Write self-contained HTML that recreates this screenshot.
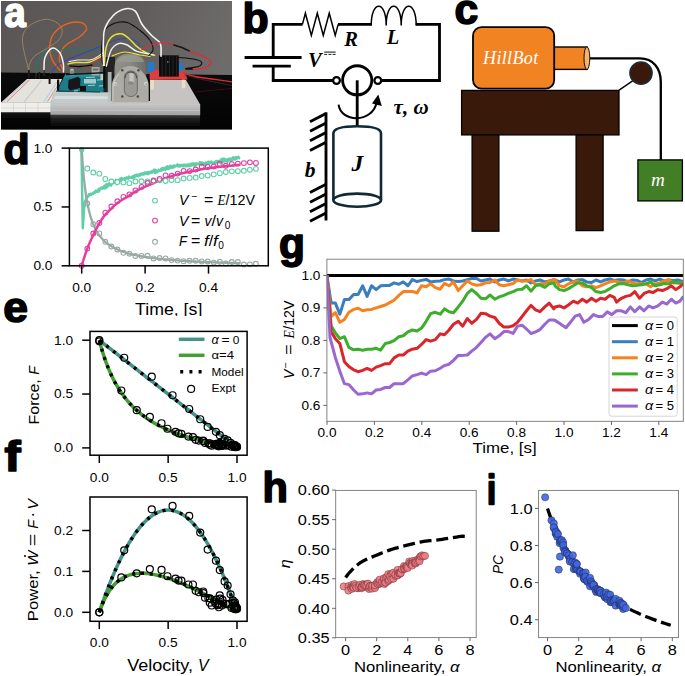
<!DOCTYPE html>
<html><head><meta charset="utf-8"><title>Figure</title>
<style>
html,body{margin:0;padding:0;background:#fff;}
body{width:685px;height:676px;overflow:hidden;font-family:"Liberation Sans",sans-serif;}
svg{display:block;font-family:"Liberation Sans",sans-serif;}
</style></head><body>
<svg width="685" height="676" viewBox="0 0 685 676">
<defs>
<linearGradient id="bgA" x1="0" y1="0" x2="1" y2="0.25"><stop offset="0" stop-color="#595655"/><stop offset="0.55" stop-color="#5f5c5b"/><stop offset="1" stop-color="#6e6b6b"/></linearGradient>
<linearGradient id="tblA" x1="0" y1="0" x2="0" y2="1"><stop offset="0" stop-color="#0b0b0b"/><stop offset="1" stop-color="#030303"/></linearGradient>
<linearGradient id="refA" x1="0" y1="0" x2="0" y2="1"><stop offset="0" stop-color="#505050"/><stop offset="0.35" stop-color="#262626"/><stop offset="1" stop-color="#060606"/></linearGradient>
<linearGradient id="alA" x1="0" y1="0" x2="0" y2="1"><stop offset="0" stop-color="#c9c9c9"/><stop offset="0.5" stop-color="#b4b4b4"/><stop offset="1" stop-color="#a2a2a2"/></linearGradient>
<linearGradient id="motA" x1="0" y1="0" x2="1" y2="0"><stop offset="0" stop-color="#8f9189"/><stop offset="0.45" stop-color="#8a8c84"/><stop offset="1" stop-color="#6a6c66"/></linearGradient>
<filter id="blA" x="-2%" y="-2%" width="104%" height="104%"><feGaussianBlur stdDeviation="0.45"/></filter>
<filter id="blB" x="-5%" y="-5%" width="110%" height="110%"><feGaussianBlur stdDeviation="1.2"/></filter>
</defs>
<clipPath id="ca"><rect x="1" y="1" width="231" height="128.5"/></clipPath>
<g clip-path="url(#ca)">
<rect x="0" y="0" width="234" height="131" fill="url(#bgA)" stroke="none" stroke-width="1" />
<polygon points="0,72.6 234,75 234,131 0,131" fill="url(#tblA)" />
<g filter="url(#blA)">
<rect x="50.5" y="114.5" width="149.5" height="12" fill="url(#refA)" stroke="none" stroke-width="0" opacity="0.8"/>
<rect x="1.5" y="112" width="49" height="8" fill="url(#refA)" stroke="none" stroke-width="0" opacity="0.28"/>
<polygon points="27,79 62,79 51,102.5 1,102.5" fill="#e4e2dc" />
<polygon points="1,102.3 51,102.3 51,112.2 1,112.2" fill="#efeeea" />
<line x1="1" y1="108" x2="51" y2="108" stroke="#d6d4cf" stroke-width="0.8" />
<line x1="13.5" y1="102.5" x2="13.5" y2="112" stroke="#cfcdc8" stroke-width="0.7" />
<line x1="25.5" y1="102.5" x2="25.5" y2="112" stroke="#cfcdc8" stroke-width="0.7" />
<line x1="38" y1="102.5" x2="38" y2="112" stroke="#cfcdc8" stroke-width="0.7" />
<line x1="29.5" y1="80" x2="7" y2="101.5" stroke="#e0707a" stroke-width="0.9" />
<line x1="27.5" y1="80" x2="3.5" y2="101.5" stroke="#8ec6e0" stroke-width="0.7" />
<line x1="58" y1="80.5" x2="44" y2="101.5" stroke="#8ec6e0" stroke-width="0.8" />
<line x1="60" y1="82" x2="47.5" y2="101.5" stroke="#e0707a" stroke-width="0.8" />
<line x1="42" y1="80" x2="24" y2="102" stroke="#cfcdc6" stroke-width="1.2" />
<polygon points="50.4,103.8 200,104.2 186,80 150,79.4 150,101 56,101" fill="#c8c3c3" />
<polygon points="50.4,103.6 200.2,104 200.2,115.2 50.4,114.8" fill="url(#alA)" />
<line x1="50.4" y1="110.2" x2="200" y2="110.6" stroke="#cfcfcf" stroke-width="0.8" opacity="0.7"/>
<polygon points="53.3,91.5 111,92 111,103.8 50.8,103.8" fill="#c3cbcb" />
<polygon points="55,96 110,96.3 110,99 54,99" fill="#dfe5e5" opacity="0.7"/>
<polygon points="65.3,74.3 108.4,72.1 109.1,92.6 56.6,91.8" fill="#1f7d88" />
<polygon points="65.3,74.3 108.4,72.1 108.6,76 63.5,78" fill="#2a93a0" opacity="0.6"/>
<polygon points="68.5,80 78,76.8 80.5,79 80,88 70,90.5 68,88" fill="#15161a" />
<rect x="91.6" y="67" width="8" height="8.5" fill="#a9a9a2" stroke="none" stroke-width="1" />
<rect x="92.8" y="68.5" width="5.6" height="2" fill="#6f6f6a" stroke="none" stroke-width="1" />
<circle cx="72" cy="70.5" r="2" fill="#b8b8b8" stroke="none" stroke-width="1" />
<rect x="69.8" y="70.5" width="4.4" height="5" fill="#8a8a8a" stroke="none" stroke-width="1" />
<rect x="80" y="86" width="6" height="5" fill="#111" stroke="none" stroke-width="1" />
<rect x="84" y="79" width="12" height="4.5" fill="#cfe4e6" stroke="none" stroke-width="0" opacity="0.75"/>
<rect x="57" y="79.5" width="2.2" height="11" fill="#0c0c0c" stroke="none" stroke-width="1" />
<line x1="66" y1="74.6" x2="108" y2="72.5" stroke="#101418" stroke-width="1.3" />
<line x1="58" y1="91" x2="100" y2="92" stroke="#0f3f45" stroke-width="1" />
<line x1="86" y1="77.5" x2="95" y2="77.2" stroke="#d8ecee" stroke-width="0.9" opacity="0.8"/>
<line x1="88" y1="85.5" x2="95" y2="85.2" stroke="#d8ecee" stroke-width="0.9" opacity="0.8"/>
<line x1="97" y1="80" x2="103" y2="79.7" stroke="#d8ecee" stroke-width="0.9" opacity="0.8"/>
<line x1="99" y1="86" x2="104" y2="85.7" stroke="#d8ecee" stroke-width="0.9" opacity="0.8"/>
<line x1="74" y1="91" x2="78" y2="90.7" stroke="#d8ecee" stroke-width="0.9" opacity="0.8"/>
<rect x="100.5" y="74" width="3" height="6" fill="#c8c8c0" stroke="none" stroke-width="1" />
<path d="M103.5,57 H115 V92 H103.5 Z" fill="#1b1b1b" opacity="0.92"/>
<path d="M114.5,100 V68 C114.5,57 121,53.5 130.5,53.5 C140,53.5 146.2,57 146.2,68 V100 Z" fill="url(#motA)"/>
<path d="M117,62 C119,56.5 124,55 130.5,55 C137,55 142,56.5 144,62 Z" fill="#9c9e96" opacity="0.7"/>
<rect x="107.8" y="72" width="3.8" height="30.2" fill="#b9c1bf" stroke="none" stroke-width="0" opacity="0.9"/>
<path d="M111.9,102.2 V86 C111.9,80 115,76 118.5,72 C121.5,68 125,65.9 130.5,65.9 C136,65.9 139.5,68 142.5,72 C146,76 148.7,80 148.7,86 V102.2 Z" fill="#acaba5"/>
<path d="M113,101.5 V87 C113,82 115.5,78 119,74" fill="none" stroke="#c9c8c3" stroke-width="1.1"/>
<path d="M124.4,90 V77.5 C124.4,68.8 137.3,68.8 137.3,77.5 V90 C137.3,98.7 124.4,98.7 124.4,90 Z" fill="#9b9a94" stroke="#66655f" stroke-width="0.9"/>
<path d="M125.2,78 C125.2,70 136.5,70 136.5,78" fill="none" stroke="#3e3d39" stroke-width="1"/>
<rect x="127.8" y="73.2" width="5.9" height="10.5" fill="#c6c4be" stroke="none" stroke-width="0" rx="1.6"/>
<rect x="127.8" y="73.2" width="1.6" height="10.5" fill="#9f9d97" stroke="none" stroke-width="0" rx="0.8"/>
<ellipse cx="130.7" cy="83" rx="2.9" ry="1.8" fill="#8a8882"/>
<circle cx="122.3" cy="70.3" r="1.3" fill="#4e4d49" stroke="none" stroke-width="1" />
<circle cx="138.5" cy="70.3" r="1.3" fill="#4e4d49" stroke="none" stroke-width="1" />
<circle cx="122.3" cy="96.5" r="1.3" fill="#4e4d49" stroke="none" stroke-width="1" />
<circle cx="137.8" cy="96.5" r="1.3" fill="#4e4d49" stroke="none" stroke-width="1" />
<circle cx="115" cy="84" r="1.9" fill="#d6d5d0" stroke="none" stroke-width="1" />
<circle cx="115.3" cy="84.4" r="0.9" fill="#a3a29c" stroke="none" stroke-width="1" />
<circle cx="145.9" cy="83.6" r="1.9" fill="#d6d5d0" stroke="none" stroke-width="1" />
<circle cx="146.2" cy="84" r="0.9" fill="#a3a29c" stroke="none" stroke-width="1" />
<rect x="150.3" y="80" width="3.6" height="9.6" fill="#e6dfc2" stroke="none" stroke-width="1" />
<rect x="181.8" y="79.4" width="3.5" height="8.8" fill="#e6dfc2" stroke="none" stroke-width="1" />
<polygon points="149.6,70 184,70 187.6,79.4 149.6,79.4" fill="#e23c3e" />
<rect x="147.4" y="62" width="6.6" height="10" fill="#2878c8" stroke="none" stroke-width="1" />
<rect x="178.8" y="62.6" width="4" height="9" fill="#2878c8" stroke="none" stroke-width="1" />
<rect x="159" y="55.3" width="19.8" height="21.3" fill="#0d0d0f" stroke="none" stroke-width="1" />
<line x1="162.2" y1="56" x2="162.2" y2="76" stroke="#2b2b30" stroke-width="0.8" />
<line x1="165.8" y1="56" x2="165.8" y2="76" stroke="#2b2b30" stroke-width="0.8" />
<line x1="169.4" y1="56" x2="169.4" y2="76" stroke="#2b2b30" stroke-width="0.8" />
<line x1="173" y1="56" x2="173" y2="76" stroke="#2b2b30" stroke-width="0.8" />
<line x1="176.4" y1="56" x2="176.4" y2="76" stroke="#2b2b30" stroke-width="0.8" />
<circle cx="167.8" cy="62" r="0.8" fill="#999" stroke="none" stroke-width="1" />
<path d="M28.8,70.7 C27.73,65.58 22.27,47.5 22.4,40 C22.53,32.5 25.45,29.15 29.6,25.7 C33.75,22.25 42.07,19.17 47.3,19.3 C52.53,19.43 58.88,23.3 61,26.5 C63.12,29.7 62.28,34.88 60,38.5 C57.72,42.12 51.55,45.25 47.3,48.2 C43.05,51.15 37.45,53.53 34.5,56.2 C31.55,58.87 30.55,61.78 29.6,64.2 C28.65,66.62 28.93,69.62 28.8,70.7" fill="none" stroke="#a08662" stroke-width="0.9" stroke-linecap="round" />
<path d="M60.1,70.7 C58.75,68.82 53.73,63.42 52,59.4 C50.27,55.38 49.42,50.88 49.7,46.6 C49.98,42.32 50.88,37.47 53.7,33.7 C56.52,29.93 62.05,25.87 66.6,24 C71.15,22.13 77.67,21.68 81,22.5 C84.33,23.32 86.87,26.48 86.6,28.9 C86.33,31.32 82.47,34.58 79.4,37 C76.33,39.42 71.13,41.27 68.2,43.4 C65.27,45.53 63.28,47.13 61.8,49.8 C60.32,52.47 59.17,56.2 59.3,59.4 C59.43,62.6 62.05,67.4 62.6,69" fill="none" stroke="#e8621e" stroke-width="1.4" stroke-linecap="round" />
<path d="M36,76 C36.28,73.5 36.37,64.83 37.7,61 C39.03,57.17 41.62,54.85 44,53 C46.38,51.15 42.62,50.43 52,49.9 C61.38,49.37 92.25,49.82 100.3,49.8" fill="none" stroke="#1f7a66" stroke-width="1.1" stroke-linecap="round" />
<path d="M50.5,73.9 C51.58,72.55 54.05,68.22 57,65.8 C59.95,63.38 63.67,61.53 68.2,59.4 C72.73,57.27 78.85,55.13 84.2,53 C89.55,50.87 94.93,48.77 100.3,46.6 C105.67,44.43 111.9,41.35 116.4,40 C120.9,38.65 123.87,38.2 127.3,38.5 C130.73,38.8 134.88,40.18 137,41.8 C139.12,43.42 139.5,47.13 140,48.2" fill="none" stroke="#2744c4" stroke-width="1" stroke-linecap="round" />
<path d="M44,72 C44.15,69.63 43.57,61.77 44.9,57.8 C46.23,53.83 49.48,49 52,48.2 C54.52,47.4 58.1,50.33 60,53 C61.9,55.67 62.83,61.03 63.4,64.2 C63.97,67.37 63.4,70.7 63.4,72" fill="none" stroke="#f4f4f4" stroke-width="1.5" stroke-linecap="round" />
<path d="M68,64 C69.17,63.75 71.33,62.83 75,62.5 C78.67,62.17 85.25,63.25 90,62 C94.75,60.75 101.25,56.17 103.5,55" fill="none" stroke="#e8dc3a" stroke-width="1.4" stroke-linecap="round" />
<path d="M69,61.5 C70.5,61.25 74.17,60.33 78,60 C81.83,59.67 87.83,60.67 92,59.5 C96.17,58.33 101.17,54.08 103,53" fill="none" stroke="#f0f0f0" stroke-width="1.1" stroke-linecap="round" />
<path d="M88,69 C89,67.83 91.5,63.92 94,62 C96.5,60.08 101.5,58.25 103,57.5" fill="none" stroke="#d42a2a" stroke-width="1" stroke-linecap="round" />
<path d="M70,66 C71.67,66.08 76.33,66.67 80,66.5 C83.67,66.33 90,65.25 92,65" fill="none" stroke="#111" stroke-width="1.3" stroke-linecap="round" />
<path d="M104.3,67.5 C104.58,64.25 104.8,53.08 106,48 C107.2,42.92 109,39.38 111.5,37 C114,34.62 118.1,33.45 121,33.7 C123.9,33.95 126.23,36.35 128.9,38.5 C131.57,40.65 134.05,44.18 137,46.6 C139.95,49.02 143.67,51.53 146.6,53 C149.53,54.47 153.27,55 154.6,55.4" fill="none" stroke="#e6e23a" stroke-width="1.5" stroke-linecap="round" />
<path d="M106.4,66 C107.2,63.3 109.05,53.57 111.2,49.8 C113.35,46.03 116.62,44.2 119.3,43.4 C121.98,42.6 124.35,43.67 127.3,45 C130.25,46.33 132.72,49.8 137,51.4 C141.28,53 150.33,54.07 153,54.6" fill="none" stroke="#f0f0f0" stroke-width="1.4" stroke-linecap="round" />
<path d="M102.5,64 C102.35,61.37 101.22,53.78 101.6,48.2 C101.98,42.62 102.65,34.65 104.8,30.5 C106.95,26.35 110.75,24.63 114.5,23.3 C118.25,21.97 123.03,21.3 127.3,22.5 C131.57,23.7 136.35,27.58 140.1,30.5 C143.85,33.42 147.65,36.78 149.8,40 C151.95,43.22 153.3,47.1 153,49.8 C152.7,52.5 148.83,55.13 148,56.2" fill="none" stroke="#0e0e0e" stroke-width="1.1" stroke-linecap="round" />
<path d="M103.6,66 C103.67,60.33 102.47,40.33 104,32 C105.53,23.67 109.18,19.87 112.8,16 C116.42,12.13 121.95,9.6 125.7,8.8 C129.45,8 132.62,8.67 135.3,11.2 C137.98,13.73 139.12,19.98 141.8,24 C144.48,28.02 148.33,32.07 151.4,35.3 C154.47,38.53 158.6,39.92 160.2,43.4 C161.8,46.88 160.87,54.07 161,56.2" fill="none" stroke="#f2f2f2" stroke-width="1.6" stroke-linecap="round" />
<path d="M112,56 C114.17,55.33 120.33,52.17 125,52 C129.67,51.83 135.83,54.25 140,55 C144.17,55.75 148.33,56.25 150,56.5" fill="none" stroke="#e6e23a" stroke-width="1.2" stroke-linecap="round" />
<path d="M141.7,49.8 C143.32,49 147.65,46.2 151.4,45 C155.15,43.8 160.45,42.6 164.2,42.6 C167.95,42.6 172.28,44.6 173.9,45" fill="none" stroke="#de2b36" stroke-width="1.2" stroke-linecap="round" />
<path d="M173.9,45 C175.25,45.42 179.32,46.43 182,47.5 C184.68,48.57 188.67,50.75 190,51.4" fill="none" stroke="#151515" stroke-width="1.5" stroke-linecap="round" />
<path d="M190,51.4 C192.13,52.2 199.3,54.43 202.8,56.2 C206.3,57.97 210.63,60.08 211,62 C211.37,63.92 208.17,66.45 205,67.7 C201.83,68.95 194.17,69.2 192,69.5" fill="none" stroke="#de2b36" stroke-width="1.3" stroke-linecap="round" />
<path d="M178.8,57.5 C181.23,57.75 189.63,58.25 193.4,59 C197.17,59.75 200.47,60.78 201.4,62 C202.33,63.22 201.57,65.22 199,66.3 C196.43,67.38 188.17,68.13 186,68.5" fill="none" stroke="#101010" stroke-width="1.1" stroke-linecap="round" />
<path d="M186,68.8 C187,68.8 191,68.8 192,68.8" fill="none" stroke="#0a0a0a" stroke-width="1.8" stroke-linecap="round" />
<path d="M183,72.8 C185,73.42 190.17,75.47 195,76.5 C199.83,77.53 205.83,78.12 212,79 C218.17,79.88 228.67,81.33 232,81.8" fill="none" stroke="#de2b36" stroke-width="1.3" stroke-linecap="round" />
<path d="M185,75 C187.5,75.67 192.17,77.25 200,79 C207.83,80.75 226.67,84.42 232,85.5" fill="none" stroke="#3a3a3a" stroke-width="0.7" stroke-linecap="round" />
<path d="M196,92 C199.17,91.67 209,90.58 215,90 C221,89.42 229.17,88.75 232,88.5" fill="none" stroke="#5a1015" stroke-width="0.7" stroke-linecap="round" />
<rect x="28" y="70" width="1.8" height="8" fill="#1a1a1a" stroke="none" stroke-width="1" />
<rect x="35" y="73" width="1.6" height="6" fill="#1a1a1a" stroke="none" stroke-width="1" />
<rect x="38.6" y="72" width="1.6" height="7" fill="#1a1a1a" stroke="none" stroke-width="1" />
<rect x="48.6" y="76" width="2" height="8" fill="#151515" stroke="none" stroke-width="1" />
<rect x="43.3" y="70" width="1.6" height="6" fill="#222" stroke="none" stroke-width="1" />
<rect x="103.2" y="66" width="2.2" height="22" fill="#111" stroke="none" stroke-width="1" />
</g>
</g>
<g fill="none" stroke="#000" stroke-linecap="butt" stroke-linejoin="miter">
<path d="M273.2,57.5 V24.4 H302.6" stroke-width="2.85"/>
<polyline points="302.4,24.4 305.38,13.2 311.35,35.4 317.32,13.2 323.28,35.4 329.25,13.2 335.22,35.4 338.2,24.4" stroke-width="1.5"/>
<path d="M338,24.4 H371.6" stroke-width="2.85"/>
<path d="M371.2,25.5 C371.2,-0.2 386.2,-0.2 386.2,25.5 M386.2,25.5 C386.2,-0.2 401.2,-0.2 401.2,25.5 M401.2,25.5 C401.2,-0.2 416.2,-0.2 416.2,25.5 " stroke-width="1.5"/>
<path d="M415.8,24.4 H439.5 V80.5 H381" stroke-width="2.85"/>
<path d="M244.6,57.5 H301.6" stroke-width="2.85"/>
<path d="M252.6,66.1 H290.8" stroke-width="2.85"/>
<path d="M273.2,66.1 V80.5 H333.2" stroke-width="2.85"/>
<circle cx="336.5" cy="80.5" r="3.4" stroke-width="2.3"/>
<circle cx="377.8" cy="80.5" r="3.4" stroke-width="2.3"/>
<circle cx="357.2" cy="80.3" r="14.6" stroke-width="2.85" fill="#fff"/>
<path d="M357.2,80.3 V126" stroke-width="2.85"/>
<path d="M338.6,104.6 C341,123 372,123 376.5,103" stroke-width="2"/>
<path d="M378.3,94.5 L381.8,106 L372,103.5 Z" fill="#000" stroke="none"/>
<path d="M326,112.3 V220.5" stroke-width="2.85"/>
<path d="M326,113.6 L310,121.8" stroke-width="2.85"/>
<path d="M326,123 L310,131.2" stroke-width="2.85"/>
<path d="M326,132.6 L310,140.79999999999998" stroke-width="2.85"/>
<path d="M326,142.2 L310,150.39999999999998" stroke-width="2.85"/>
<path d="M326,184.3 L310,192.5" stroke-width="2.85"/>
<path d="M326,194 L310,202.2" stroke-width="2.85"/>
<path d="M326,203.5 L310,211.7" stroke-width="2.85"/>
<path d="M326,213 L310,221.2" stroke-width="2.85"/>
<g stroke="#0f2a36" stroke-width="2.6">
<path d="M333.4,200.2 V133.5 C333.4,128.8 341,126.2 357.2,126.2 C373.4,126.2 381,128.8 381,133.5 V200.2"/>
<ellipse cx="357.2" cy="200.2" rx="23.8" ry="6.6"/>
</g>
</g>
<text x="344.2" y="46.3" font-size="20.5" fill="#000" font-style="italic" font-weight="bold" font-family="Liberation Serif">R</text>
<text x="386.8" y="44" font-size="20.5" fill="#000" font-style="italic" font-weight="bold" font-family="Liberation Serif">L</text>
<text x="308" y="66.6" font-size="20.5" fill="#000" font-style="italic" font-weight="bold" font-family="Liberation Serif">V</text>
<line x1="324.2" y1="52.1" x2="335.6" y2="52.1" stroke="#222" stroke-width="1.1" />
<line x1="324.2" y1="54.4" x2="335.6" y2="54.4" stroke="#222" stroke-width="1" stroke-dasharray="3 1.2"/>
<text x="351.6" y="171.2" font-size="23.5" fill="#000" font-style="italic" font-weight="bold" font-family="Liberation Serif">J</text>
<text x="304.8" y="177" font-size="21.5" fill="#000" font-style="italic" font-weight="bold" font-family="Liberation Serif">b</text>
<text x="393.6" y="113.8" font-size="21.5" fill="#000" textLength="35" lengthAdjust="spacingAndGlyphs" font-style="italic" font-weight="bold" font-family="Liberation Serif">τ, ω</text>
<path d="M588,58.3 H640 C653,58.3 660.8,68 660.8,82 V160" fill="none" stroke="#000" stroke-width="2.3"/>
<rect x="472.1" y="134" width="26.8" height="97.2" fill="#38190A" stroke="#000" stroke-width="1.3" />
<rect x="576.1" y="134" width="27" height="96.6" fill="#38190A" stroke="#000" stroke-width="1.3" />
<rect x="461.6" y="90.4" width="157.4" height="44.5" fill="#38190A" stroke="#000" stroke-width="1.3" />
<line x1="619.1" y1="90.2" x2="633" y2="80.6" stroke="#000" stroke-width="1.4" />
<circle cx="641" cy="73.1" r="11.1" fill="#3A190A" stroke="#17303a" stroke-width="1.5" />
<rect x="553" y="47" width="34" height="22.4" fill="#F28322" stroke="#000" stroke-width="1.4" />
<ellipse cx="586.9" cy="58.2" rx="2.9" ry="11.4" fill="#F4B469" stroke="#000" stroke-width="0.9"/>
<rect x="473" y="27.2" width="81.2" height="61.4" fill="#F28322" stroke="#000" stroke-width="1.8" rx="8.5" ry="8.5"/>
<text x="483" y="63.6" font-size="18.3" fill="#fff" textLength="55.5" lengthAdjust="spacingAndGlyphs" font-style="italic" font-family="Liberation Serif" letter-spacing="0.3">HillBot</text>
<rect x="637.9" y="159.9" width="44.5" height="41" fill="#427E26" stroke="#000" stroke-width="1.3" />
<text x="651" y="186.2" font-size="18.5" fill="#fff" textLength="13.8" lengthAdjust="spacingAndGlyphs" font-style="italic" font-family="Liberation Serif">m</text>
<clipPath id="cd"><rect x="69.4" y="148.1" width="198.9" height="117.70000000000002"/></clipPath>
<g clip-path="url(#cd)">
<polyline points="81.38,148.1 82.81,228.14 84.08,208.13 85.19,201.06 86.61,197.7 86.98,196.48 87.34,197.82 87.71,196.03 88.08,196.67 88.44,196.35 88.81,194.39 89.17,195.42 89.54,195.28 89.9,194.4 90.27,193.81 90.64,194.43 91,193.7 91.37,194.64 91.73,193.93 92.1,193.75 92.46,194.2 92.83,194.11 93.2,193.97 93.56,192.69 93.93,192.43 94.29,192.33 94.66,191.82 95.02,192.69 95.39,191.53 95.76,191.08 96.12,190.49 96.49,191.52 96.85,190.99 97.22,192.03 97.58,190.68 97.95,191.79 98.32,191.01 98.68,188.9 99.05,191.24 99.41,188.76 99.78,188.93 100.14,189.24 100.51,188.46 100.88,188.22 101.24,187.64 101.61,188.43 101.97,188.52 102.34,188.35 102.7,188.46 103.07,187.55 103.43,187.93 103.8,186.33 104.17,188.4 104.53,187.62 104.9,187.33 105.26,188.02 105.63,184.78 105.99,187.9 106.36,186.1 106.73,186.1 107.09,184.26 107.46,186.87 107.82,184.35 108.19,185.56 108.55,184.94 108.92,185.17 109.29,183.99 109.65,185.18 110.02,184.2 110.38,183.71 110.75,182.4 111.11,185.49 111.48,182.32 111.85,182.6 112.21,183.53 112.58,182.77 112.94,183.21 113.31,181.44 113.67,182.38 114.04,182.56 114.41,182.42 114.77,182.25 115.14,182.09 115.5,182.48 115.87,180.1 116.23,182.99 116.6,184.16 116.97,181.36 117.33,181.24 117.7,180.72 118.06,181.03 118.43,180.86 118.79,180.37 119.16,179.76 119.52,180.73 119.89,180.55 120.26,178.66 120.62,179.62 120.99,180.67 121.35,178.02 121.72,179.09 122.08,180.03 122.45,180.37 122.82,179.13 123.18,179.89 123.55,179.95 123.91,180.03 124.28,179.32 124.64,177.98 125.01,179.05 125.38,179.72 125.74,178 126.11,178.36 126.47,177.66 126.84,177.28 127.2,178.23 127.57,178.11 127.94,177.93 128.3,178.66 128.67,177.18 129.03,176.54 129.4,177.35 129.76,177.56 130.13,177.48 130.5,177.77 130.86,177.69 131.23,177.28 131.59,177.52 131.96,177.11 132.32,177.88 132.69,176.31 133.06,176.44 133.42,177.26 133.79,178.04 134.15,176.19 134.52,175.24 134.88,176.55 135.25,176.26 135.61,176.23 135.98,175.2 136.35,176.3 136.71,174.75 137.08,175.64 137.44,174.61 137.81,175.19 138.17,175.3 138.54,176.16 138.91,175.46 139.27,175.04 139.64,174.25 140,174.47 140.37,175.1 140.73,174.16 141.1,173.63 141.47,174.41 141.83,174.54 142.2,174.41 142.56,173.4 142.93,173.52 143.29,174.55 143.66,173.47 144.03,174.03 144.39,174.15 144.76,172.54 145.12,172.77 145.49,173.87 145.85,173.17 146.22,172.76 146.59,173.55 146.95,173.07 147.32,172.38 147.68,174.18 148.05,172.48 148.41,172.09 148.78,172.19 149.15,173.52 149.51,172.17 149.88,173 150.24,171.82 150.61,171.72 150.97,171.94 151.34,172.61 151.7,172.41 152.07,171.22 152.44,172.49 152.8,171.34 153.17,171.26 153.53,171.78 153.9,169.66 154.26,171.36 154.63,169.7 155,172.8 155.36,172.9 155.73,170.35 156.09,170.54 156.46,171.18 156.82,170.9 157.19,172.23 157.56,171.18 157.92,171.4 158.29,170.7 158.65,169.76 159.02,170.31 159.38,169.98 159.75,170.71 160.12,170.42 160.48,169.91 160.85,170.12 161.21,168.84 161.58,170.37 161.94,168.15 162.31,170.24 162.68,168.56 163.04,169.85 163.41,167.88 163.77,168.91 164.14,168.58 164.5,168.19 164.87,169.12 165.24,169.31 165.6,169.94 165.97,167.33 166.33,168.67 166.7,168.47 167.06,167.92 167.43,166.26 167.79,168.99 168.16,167.36 168.53,167.75 168.89,166.94 169.26,168.63 169.62,167.47 169.99,166.44 170.35,165.82 170.72,165.72 171.09,167.53 171.45,166.78 171.82,166.85 172.18,167.76 172.55,167.75 172.91,166.02 173.28,166.36 173.65,166.61 174.01,165.52 174.38,167.17 174.74,165.95 175.11,166.3 175.47,166.31 175.84,165.85 176.21,166.05 176.57,165.93 176.94,165.9 177.3,164.58 177.67,166.26 178.03,165.21 178.4,165.48 178.77,166.18 179.13,165.26 179.5,166.49 179.86,164.91 180.23,166.39 180.59,166.11 180.96,165.45 181.33,165.03 181.69,164.93 182.06,164.91 182.42,165.72 182.79,166.26 183.15,165.07 183.52,165.22 183.88,166.15 184.25,164.64 184.62,165.19 184.98,166.04 185.35,164.93 185.71,166.24 186.08,165.86 186.44,164.84 186.81,166.3 187.18,165.04 187.54,166.07 187.91,164.43 188.27,165.51 188.64,164.77 189,166.02 189.37,165.1 189.74,164.07 190.1,164.41 190.47,166.12 190.83,163.97 191.2,163.96 191.56,164.89 191.93,163.48 192.3,165.33 192.66,164.55 193.03,163.59 193.39,163.4 193.76,163.39 194.12,165.17 194.49,165.65 194.86,163.95 195.22,165.31 195.59,164.28 195.95,165.12 196.32,163.29 196.68,163.45 197.05,163.6 197.42,163.97 197.78,163.91 198.15,164.14 198.51,163.58 198.88,163.64 199.24,163.44 199.61,164.08 199.97,162.27 200.34,163.46 200.71,162.57 201.07,162.58 201.44,164.24 201.8,164.82 202.17,162.53 202.53,163.75 202.9,163.35 203.27,163.57 203.63,163.23 204,164.21 204.36,163.34 204.73,163.57 205.09,163.19 205.46,164.93 205.83,162.47 206.19,162.81 206.56,164.34 206.92,163.54 207.29,162.92 207.65,162.42 208.02,162.86 208.39,161.77 208.75,162.77 209.12,163.51 209.48,163.22 209.85,162.1 210.21,163.1 210.58,161.95 210.95,161.77 211.31,162.07 211.68,161.7 212.04,162.57 212.41,162.41 212.77,162.82 213.14,162.8 213.51,163.49 213.87,162.68 214.24,163.04 214.6,163.27 214.97,162.03 215.33,161.76 215.7,162.33 216.06,160.98 216.43,161.27 216.8,161.15 217.16,162.37 217.53,163.01 217.89,161.41 218.26,161.56 218.62,161.2 218.99,161.39 219.36,160.71 219.72,161.85 220.09,161.08 220.45,162.23 220.82,163.27 221.18,161.21 221.55,159.06 221.92,161.58 222.28,161.59 222.65,161.78 223.01,160.62 223.38,161.55 223.74,158.54 224.11,161.44 224.48,159.72 224.84,159.87 225.21,160.79 225.57,159.35 225.94,160.07 226.3,160.97 226.67,159.58 227.04,160.32 227.4,161.97 227.77,160.05 228.13,158.93 228.5,159.02 228.86,160.4 229.23,159.57 229.6,159.36 229.96,158.54 230.33,158.8 230.69,161.03 231.06,160.05 231.42,160.42 231.79,158.66 232.15,158.26 232.52,159.74 232.89,159.64 233.25,157.18 233.62,157.86 233.98,159.07 234.35,158.74 234.71,159.59 235.08,159.6 235.45,159.2 235.81,157.18 236.18,159.08 236.54,158.59 236.91,157.83 237.27,158.27 237.64,157.97 238.01,156.97 238.37,156.88 238.74,157.57 239.1,157.5 239.47,158.15 239.83,158.1 240.2,158.19" fill="none" stroke="#5ECFA6" stroke-width="2.5" stroke-linejoin="round"/>
<polyline points="81.7,148.1 82.49,160.78 83.28,171.05 84.08,179.53 84.87,186.66 85.66,192.73 86.45,197.97 87.25,202.53 88.04,206.54 88.83,210.09 89.62,213.25 90.42,216.09 91.21,218.66 92,220.98 92.8,223.1 93.59,225.04 94.38,226.82 95.17,228.46 95.97,229.97 96.76,231.38 97.55,232.69 98.34,233.9 99.14,235.04 99.93,236.11 100.72,237.11 101.51,238.05 102.31,238.93 103.1,239.76 103.89,240.55 104.68,241.3 105.47,242.01 106.27,242.68 107.06,243.32 107.85,243.92 108.65,244.5 109.44,245.05 110.23,245.58 111.02,246.08 111.81,246.57 112.61,247.03 113.4,247.47 114.19,247.89 114.98,248.3 115.78,248.69 116.57,249.07 117.36,249.43 118.16,249.78 118.95,250.11 119.74,250.44 120.53,250.75 121.33,251.05 122.12,251.34 122.91,251.62 123.7,251.9 124.5,252.16 125.29,252.41 126.08,252.66 126.87,252.9 127.66,253.13 128.46,253.36 129.25,253.58 130.04,253.79 130.84,253.99 131.63,254.19 132.42,254.39 133.21,254.58 134,254.76 134.8,254.94 135.59,255.11 136.38,255.28 137.18,255.45 137.97,255.61 138.76,255.77 139.55,255.92 140.34,256.07 141.14,256.21 141.93,256.35 142.72,256.49 143.52,256.63 144.31,256.76 145.1,256.89 145.89,257.01 146.69,257.14 147.48,257.26 148.27,257.38 149.06,257.49 149.86,257.6 150.65,257.71 151.44,257.82 152.23,257.93 153.03,258.03 153.82,258.13 154.61,258.23 155.4,258.33 156.19,258.42 156.99,258.52 157.78,258.61 158.57,258.7 159.37,258.78 160.16,258.87 160.95,258.95 161.74,259.04 162.54,259.12 163.33,259.2 164.12,259.28 164.91,259.35 165.71,259.43 166.5,259.5 167.29,259.58 168.08,259.65 168.88,259.72 169.67,259.79 170.46,259.85 171.25,259.92 172.05,259.99 172.84,260.05 173.63,260.11 174.42,260.18 175.22,260.24 176.01,260.3 176.8,260.36 177.59,260.41 178.38,260.47 179.18,260.53 179.97,260.58 180.76,260.64 181.56,260.69 182.35,260.74 183.14,260.8 183.93,260.85 184.73,260.9 185.52,260.95 186.31,261 187.1,261.05 187.9,261.09 188.69,261.14 189.48,261.19 190.27,261.23 191.06,261.28 191.86,261.32 192.65,261.36 193.44,261.41 194.24,261.45 195.03,261.49 195.82,261.53 196.61,261.57 197.41,261.61 198.2,261.65 198.99,261.69 199.78,261.73 200.57,261.77 201.37,261.8 202.16,261.84 202.95,261.88 203.75,261.91 204.54,261.95 205.33,261.98 206.12,262.02 206.92,262.05 207.71,262.08 208.5,262.12 209.29,262.15 210.09,262.18 210.88,262.21 211.67,262.25 212.46,262.28 213.25,262.31 214.05,262.34 214.84,262.37 215.63,262.4 216.43,262.43 217.22,262.46 218.01,262.48 218.8,262.51 219.6,262.54 220.39,262.57 221.18,262.59 221.97,262.62 222.76,262.65 223.56,262.67 224.35,262.7 225.14,262.73 225.94,262.75 226.73,262.78 227.52,262.8 228.31,262.83 229.11,262.85 229.9,262.87 230.69,262.9 231.48,262.92 232.27,262.94 233.07,262.97 233.86,262.99 234.65,263.01 235.44,263.03 236.24,263.05 237.03,263.08 237.82,263.1 238.62,263.12 239.41,263.14 240.2,263.16" fill="none" stroke="#9AA9A5" stroke-width="2.3" />
<polyline points="81.7,265.8 82.5,263.11 83.29,260.49 84.09,257.95 84.89,255.51 85.68,253.15 86.48,250.89 87.28,248.74 88.07,246.69 88.87,244.73 89.66,242.86 90.46,241.05 91.26,239.3 92.05,237.59 92.85,235.91 93.65,234.24 94.44,232.59 95.24,230.96 96.04,229.37 96.83,227.82 97.63,226.32 98.43,224.89 99.22,223.52 100.02,222.19 100.82,220.9 101.61,219.65 102.41,218.45 103.21,217.3 104,216.21 104.8,215.2 105.59,214.26 106.39,213.38 107.19,212.55 107.98,211.75 108.78,210.99 109.58,210.24 110.37,209.49 111.17,208.73 111.97,207.95 112.76,207.17 113.56,206.39 114.36,205.62 115.15,204.88 115.95,204.18 116.75,203.53 117.54,202.92 118.34,202.34 119.13,201.78 119.93,201.24 120.73,200.72 121.52,200.22 122.32,199.72 123.12,199.24 123.91,198.76 124.71,198.29 125.51,197.82 126.3,197.35 127.1,196.88 127.9,196.4 128.69,195.92 129.49,195.42 130.29,194.92 131.08,194.42 131.88,193.91 132.67,193.41 133.47,192.9 134.27,192.4 135.06,191.9 135.86,191.41 136.66,190.93 137.45,190.46 138.25,190 139.05,189.55 139.84,189.13 140.64,188.72 141.44,188.33 142.23,187.95 143.03,187.58 143.83,187.22 144.62,186.87 145.42,186.53 146.22,186.2 147.01,185.87 147.81,185.55 148.6,185.22 149.4,184.9 150.2,184.58 150.99,184.25 151.79,183.93 152.59,183.6 153.38,183.26 154.18,182.91 154.98,182.57 155.77,182.22 156.57,181.87 157.37,181.52 158.16,181.17 158.96,180.82 159.76,180.48 160.55,180.14 161.35,179.8 162.14,179.48 162.94,179.16 163.74,178.85 164.53,178.55 165.33,178.26 166.13,177.97 166.92,177.69 167.72,177.41 168.52,177.13 169.31,176.86 170.11,176.59 170.91,176.33 171.7,176.08 172.5,175.83 173.3,175.58 174.09,175.34 174.89,175.11 175.68,174.89 176.48,174.67 177.28,174.46 178.07,174.25 178.87,174.05 179.67,173.85 180.46,173.66 181.26,173.47 182.06,173.29 182.85,173.11 183.65,172.93 184.45,172.75 185.24,172.58 186.04,172.41 186.84,172.24 187.63,172.08 188.43,171.91 189.23,171.75 190.02,171.58 190.82,171.42 191.61,171.26 192.41,171.1 193.21,170.94 194,170.78 194.8,170.61 195.6,170.45 196.39,170.29 197.19,170.13 197.99,169.97 198.78,169.81 199.58,169.65 200.38,169.49 201.17,169.34 201.97,169.19 202.77,169.04 203.56,168.9 204.36,168.76 205.15,168.62 205.95,168.49 206.75,168.37 207.54,168.25 208.34,168.13 209.14,168.02 209.93,167.92 210.73,167.81 211.53,167.71 212.32,167.62 213.12,167.52 213.92,167.43 214.71,167.34 215.51,167.25 216.31,167.17 217.1,167.08 217.9,167 218.69,166.92 219.49,166.84 220.29,166.76 221.08,166.68 221.88,166.6 222.68,166.51 223.47,166.43 224.27,166.35 225.07,166.27 225.86,166.19 226.66,166.11 227.46,166.03 228.25,165.95 229.05,165.87 229.85,165.79 230.64,165.71 231.44,165.63 232.24,165.55 233.03,165.48 233.83,165.4 234.62,165.33 235.42,165.25 236.22,165.18 237.01,165.1 237.81,165.03 238.61,164.96 239.4,164.88 240.2,164.81" fill="none" stroke="#E23FA0" stroke-width="2.5" />
</g>
<g><circle cx="87.28" cy="168.54" r="2.4" fill="#fff" stroke="#5ECFA6" stroke-width="1.1" /><circle cx="93.3" cy="172.51" r="2.4" fill="#fff" stroke="#5ECFA6" stroke-width="1.1" /><circle cx="99.33" cy="173.63" r="2.4" fill="#fff" stroke="#5ECFA6" stroke-width="1.1" /><circle cx="105.35" cy="178.97" r="2.4" fill="#fff" stroke="#5ECFA6" stroke-width="1.1" /><circle cx="111.37" cy="181.52" r="2.4" fill="#fff" stroke="#5ECFA6" stroke-width="1.1" /><circle cx="117.39" cy="182.06" r="2.4" fill="#fff" stroke="#5ECFA6" stroke-width="1.1" /><circle cx="123.42" cy="182.41" r="2.4" fill="#fff" stroke="#5ECFA6" stroke-width="1.1" /><circle cx="129.44" cy="183.16" r="2.4" fill="#fff" stroke="#5ECFA6" stroke-width="1.1" /><circle cx="135.46" cy="181.51" r="2.4" fill="#fff" stroke="#5ECFA6" stroke-width="1.1" /><circle cx="141.49" cy="181.29" r="2.4" fill="#fff" stroke="#5ECFA6" stroke-width="1.1" /><circle cx="147.51" cy="181.38" r="2.4" fill="#fff" stroke="#5ECFA6" stroke-width="1.1" /><circle cx="153.53" cy="181.25" r="2.4" fill="#fff" stroke="#5ECFA6" stroke-width="1.1" /><circle cx="159.56" cy="180.19" r="2.4" fill="#fff" stroke="#5ECFA6" stroke-width="1.1" /><circle cx="165.58" cy="180.95" r="2.4" fill="#fff" stroke="#5ECFA6" stroke-width="1.1" /><circle cx="171.6" cy="179.95" r="2.4" fill="#fff" stroke="#5ECFA6" stroke-width="1.1" /><circle cx="177.62" cy="180.14" r="2.4" fill="#fff" stroke="#5ECFA6" stroke-width="1.1" /><circle cx="183.65" cy="178.5" r="2.4" fill="#fff" stroke="#5ECFA6" stroke-width="1.1" /><circle cx="189.67" cy="177.89" r="2.4" fill="#fff" stroke="#5ECFA6" stroke-width="1.1" /><circle cx="195.69" cy="177.53" r="2.4" fill="#fff" stroke="#5ECFA6" stroke-width="1.1" /><circle cx="201.72" cy="176.06" r="2.4" fill="#fff" stroke="#5ECFA6" stroke-width="1.1" /><circle cx="207.74" cy="175.44" r="2.4" fill="#fff" stroke="#5ECFA6" stroke-width="1.1" /><circle cx="213.76" cy="174.34" r="2.4" fill="#fff" stroke="#5ECFA6" stroke-width="1.1" /><circle cx="219.79" cy="173.22" r="2.4" fill="#fff" stroke="#5ECFA6" stroke-width="1.1" /><circle cx="225.81" cy="172.01" r="2.4" fill="#fff" stroke="#5ECFA6" stroke-width="1.1" /><circle cx="231.83" cy="171.36" r="2.4" fill="#fff" stroke="#5ECFA6" stroke-width="1.1" /><circle cx="237.85" cy="171.22" r="2.4" fill="#fff" stroke="#5ECFA6" stroke-width="1.1" /><circle cx="243.88" cy="170.81" r="2.4" fill="#fff" stroke="#5ECFA6" stroke-width="1.1" /><circle cx="249.9" cy="169.7" r="2.4" fill="#fff" stroke="#5ECFA6" stroke-width="1.1" /><circle cx="255.92" cy="168.84" r="2.4" fill="#fff" stroke="#5ECFA6" stroke-width="1.1" /><circle cx="81.7" cy="149.87" r="2.2" fill="#5ECFA6" stroke="#5ECFA6" stroke-width="1" /><circle cx="81.7" cy="265.8" r="2.4" fill="none" stroke="#E23FA0" stroke-width="1.1" /><circle cx="87.28" cy="248.61" r="2.4" fill="none" stroke="#E23FA0" stroke-width="1.1" /><circle cx="93.3" cy="233.56" r="2.4" fill="none" stroke="#E23FA0" stroke-width="1.1" /><circle cx="99.33" cy="222.88" r="2.4" fill="none" stroke="#E23FA0" stroke-width="1.1" /><circle cx="105.35" cy="212.7" r="2.4" fill="none" stroke="#E23FA0" stroke-width="1.1" /><circle cx="111.37" cy="206.55" r="2.4" fill="none" stroke="#E23FA0" stroke-width="1.1" /><circle cx="117.39" cy="201.32" r="2.4" fill="none" stroke="#E23FA0" stroke-width="1.1" /><circle cx="123.42" cy="196.83" r="2.4" fill="none" stroke="#E23FA0" stroke-width="1.1" /><circle cx="129.44" cy="194.47" r="2.4" fill="none" stroke="#E23FA0" stroke-width="1.1" /><circle cx="135.46" cy="190.44" r="2.4" fill="none" stroke="#E23FA0" stroke-width="1.1" /><circle cx="141.49" cy="186.89" r="2.4" fill="none" stroke="#E23FA0" stroke-width="1.1" /><circle cx="147.51" cy="183.02" r="2.4" fill="none" stroke="#E23FA0" stroke-width="1.1" /><circle cx="153.53" cy="180.53" r="2.4" fill="none" stroke="#E23FA0" stroke-width="1.1" /><circle cx="159.56" cy="178.91" r="2.4" fill="none" stroke="#E23FA0" stroke-width="1.1" /><circle cx="165.58" cy="175.42" r="2.4" fill="none" stroke="#E23FA0" stroke-width="1.1" /><circle cx="171.6" cy="175.79" r="2.4" fill="none" stroke="#E23FA0" stroke-width="1.1" /><circle cx="177.62" cy="173.62" r="2.4" fill="none" stroke="#E23FA0" stroke-width="1.1" /><circle cx="183.65" cy="170.92" r="2.4" fill="none" stroke="#E23FA0" stroke-width="1.1" /><circle cx="189.67" cy="171.11" r="2.4" fill="none" stroke="#E23FA0" stroke-width="1.1" /><circle cx="195.69" cy="169.52" r="2.4" fill="none" stroke="#E23FA0" stroke-width="1.1" /><circle cx="201.72" cy="166.76" r="2.4" fill="none" stroke="#E23FA0" stroke-width="1.1" /><circle cx="207.74" cy="166.96" r="2.4" fill="none" stroke="#E23FA0" stroke-width="1.1" /><circle cx="213.76" cy="166.46" r="2.4" fill="none" stroke="#E23FA0" stroke-width="1.1" /><circle cx="219.79" cy="164.06" r="2.4" fill="none" stroke="#E23FA0" stroke-width="1.1" /><circle cx="225.81" cy="165.73" r="2.4" fill="none" stroke="#E23FA0" stroke-width="1.1" /><circle cx="231.83" cy="164.08" r="2.4" fill="none" stroke="#E23FA0" stroke-width="1.1" /><circle cx="237.85" cy="163.62" r="2.4" fill="none" stroke="#E23FA0" stroke-width="1.1" /><circle cx="243.88" cy="163.11" r="2.4" fill="none" stroke="#E23FA0" stroke-width="1.1" /><circle cx="249.9" cy="162.37" r="2.4" fill="none" stroke="#E23FA0" stroke-width="1.1" /><circle cx="255.92" cy="162.97" r="2.4" fill="none" stroke="#E23FA0" stroke-width="1.1" /><circle cx="87.28" cy="203.56" r="2.4" fill="none" stroke="#9AA9A5" stroke-width="1.1" /><circle cx="93.3" cy="224.32" r="2.4" fill="none" stroke="#9AA9A5" stroke-width="1.1" /><circle cx="99.33" cy="233.4" r="2.4" fill="none" stroke="#9AA9A5" stroke-width="1.1" /><circle cx="105.35" cy="241.78" r="2.4" fill="none" stroke="#9AA9A5" stroke-width="1.1" /><circle cx="111.37" cy="246.49" r="2.4" fill="none" stroke="#9AA9A5" stroke-width="1.1" /><circle cx="117.39" cy="249.48" r="2.4" fill="none" stroke="#9AA9A5" stroke-width="1.1" /><circle cx="123.42" cy="252.82" r="2.4" fill="none" stroke="#9AA9A5" stroke-width="1.1" /><circle cx="129.44" cy="253.63" r="2.4" fill="none" stroke="#9AA9A5" stroke-width="1.1" /><circle cx="135.46" cy="255.94" r="2.4" fill="none" stroke="#9AA9A5" stroke-width="1.1" /><circle cx="141.49" cy="255.96" r="2.4" fill="none" stroke="#9AA9A5" stroke-width="1.1" /><circle cx="147.51" cy="255.82" r="2.4" fill="none" stroke="#9AA9A5" stroke-width="1.1" /><circle cx="153.53" cy="258.47" r="2.4" fill="none" stroke="#9AA9A5" stroke-width="1.1" /><circle cx="159.56" cy="257.98" r="2.4" fill="none" stroke="#9AA9A5" stroke-width="1.1" /><circle cx="165.58" cy="258.47" r="2.4" fill="none" stroke="#9AA9A5" stroke-width="1.1" /><circle cx="171.6" cy="260.11" r="2.4" fill="none" stroke="#9AA9A5" stroke-width="1.1" /><circle cx="177.62" cy="260.58" r="2.4" fill="none" stroke="#9AA9A5" stroke-width="1.1" /><circle cx="183.65" cy="261.16" r="2.4" fill="none" stroke="#9AA9A5" stroke-width="1.1" /><circle cx="189.67" cy="260.8" r="2.4" fill="none" stroke="#9AA9A5" stroke-width="1.1" /><circle cx="195.69" cy="260.75" r="2.4" fill="none" stroke="#9AA9A5" stroke-width="1.1" /><circle cx="201.72" cy="261.41" r="2.4" fill="none" stroke="#9AA9A5" stroke-width="1.1" /><circle cx="207.74" cy="261.52" r="2.4" fill="none" stroke="#9AA9A5" stroke-width="1.1" /><circle cx="213.76" cy="262.59" r="2.4" fill="none" stroke="#9AA9A5" stroke-width="1.1" /><circle cx="219.79" cy="261.8" r="2.4" fill="none" stroke="#9AA9A5" stroke-width="1.1" /><circle cx="225.81" cy="263.54" r="2.4" fill="none" stroke="#9AA9A5" stroke-width="1.1" /><circle cx="231.83" cy="262" r="2.4" fill="none" stroke="#9AA9A5" stroke-width="1.1" /><circle cx="237.85" cy="262.06" r="2.4" fill="none" stroke="#9AA9A5" stroke-width="1.1" /><circle cx="243.88" cy="264.55" r="2.4" fill="none" stroke="#9AA9A5" stroke-width="1.1" /><circle cx="249.9" cy="264.36" r="2.4" fill="none" stroke="#9AA9A5" stroke-width="1.1" /><circle cx="255.92" cy="263.78" r="2.4" fill="none" stroke="#9AA9A5" stroke-width="1.1" /></g>
<circle cx="155" cy="200.6" r="2.4" fill="#fff" stroke="#5ECFA6" stroke-width="1.1" />
<circle cx="155" cy="220.6" r="2.4" fill="#fff" stroke="#E23FA0" stroke-width="1.1" />
<circle cx="155" cy="241.8" r="2.4" fill="#fff" stroke="#9AA9A5" stroke-width="1.1" />
<text x="179" y="205.3" font-size="14.1" fill="#000" textLength="9.5" lengthAdjust="spacingAndGlyphs" font-style="italic">V</text><text x="191.5" y="200.3" font-size="10" fill="#000" textLength="6" lengthAdjust="spacingAndGlyphs">−</text><text x="204" y="205.3" font-size="14.1" fill="#000" textLength="9.3" lengthAdjust="spacingAndGlyphs">=</text><text x="217.5" y="205.3" font-size="14.1" fill="#000" textLength="8" lengthAdjust="spacingAndGlyphs" font-style="italic" font-family="Liberation Serif">E</text><text x="225.5" y="205.3" font-size="14.1" fill="#000" textLength="29.5" lengthAdjust="spacingAndGlyphs">/12V</text><text x="179" y="225.6" font-size="14.1" fill="#000" textLength="9.5" lengthAdjust="spacingAndGlyphs" font-style="italic">V</text><text x="191" y="225.6" font-size="14.1" fill="#000" textLength="9.3" lengthAdjust="spacingAndGlyphs">=</text><text x="204.5" y="225.6" font-size="14.1" fill="#000" textLength="7" lengthAdjust="spacingAndGlyphs" font-style="italic">v</text><text x="211.5" y="225.6" font-size="14.1" fill="#000" textLength="4.5" lengthAdjust="spacingAndGlyphs">/</text><text x="216" y="225.6" font-size="14.1" fill="#000" textLength="7" lengthAdjust="spacingAndGlyphs" font-style="italic">v</text><text x="224.7" y="228.6" font-size="10" fill="#000" textLength="5.6" lengthAdjust="spacingAndGlyphs">0</text><text x="179" y="246.4" font-size="14.1" fill="#000" textLength="8" lengthAdjust="spacingAndGlyphs" font-style="italic">F</text><text x="191" y="246.4" font-size="14.1" fill="#000" textLength="9.3" lengthAdjust="spacingAndGlyphs">=</text><text x="204" y="246.4" font-size="14.1" fill="#000" textLength="4.8" lengthAdjust="spacingAndGlyphs" font-style="italic">f</text><text x="208.8" y="246.4" font-size="14.1" fill="#000" textLength="4.5" lengthAdjust="spacingAndGlyphs">/</text><text x="213" y="246.4" font-size="14.1" fill="#000" textLength="4.8" lengthAdjust="spacingAndGlyphs" font-style="italic">f</text><text x="218.3" y="249.4" font-size="10" fill="#000" textLength="5.6" lengthAdjust="spacingAndGlyphs">0</text>
<rect x="69.4" y="148.1" width="198.9" height="117.7" fill="none" stroke="#000" stroke-width="1.5" />
<line x1="81.7" y1="265.8" x2="81.7" y2="273.6" stroke="#000" stroke-width="1.5" />
<text x="81.7" y="291.8" font-size="12.22" fill="#000" text-anchor="middle" textLength="19.08" lengthAdjust="spacingAndGlyphs">0.0</text>
<line x1="145.1" y1="265.8" x2="145.1" y2="273.6" stroke="#000" stroke-width="1.5" />
<text x="145.1" y="291.8" font-size="12.22" fill="#000" text-anchor="middle" textLength="19.08" lengthAdjust="spacingAndGlyphs">0.2</text>
<line x1="208.5" y1="265.8" x2="208.5" y2="273.6" stroke="#000" stroke-width="1.5" />
<text x="208.5" y="291.8" font-size="12.22" fill="#000" text-anchor="middle" textLength="19.08" lengthAdjust="spacingAndGlyphs">0.4</text>
<line x1="61.6" y1="265.8" x2="69.4" y2="265.8" stroke="#000" stroke-width="1.5" />
<text x="52.5" y="270.2" font-size="12.22" fill="#000" text-anchor="end" textLength="19.08" lengthAdjust="spacingAndGlyphs">0.0</text>
<line x1="61.6" y1="206.95" x2="69.4" y2="206.95" stroke="#000" stroke-width="1.5" />
<text x="52.5" y="211.35" font-size="12.22" fill="#000" text-anchor="end" textLength="19.08" lengthAdjust="spacingAndGlyphs">0.5</text>
<line x1="61.6" y1="148.1" x2="69.4" y2="148.1" stroke="#000" stroke-width="1.5" />
<text x="52.5" y="152.5" font-size="12.22" fill="#000" text-anchor="end" textLength="19.08" lengthAdjust="spacingAndGlyphs">1.0</text>
<clipPath id="cdx"><rect x="100" y="295" width="140" height="21"/></clipPath>
<g clip-path="url(#cdx)"><text x="168.7" y="314.5" font-size="15.63" fill="#000" text-anchor="middle" textLength="67.3" lengthAdjust="spacingAndGlyphs">Time, [s]</text></g>
<polyline points="99.3,340.2 101.04,341.56 102.79,342.93 104.53,344.29 106.27,345.65 108.02,347.02 109.76,348.38 111.5,349.74 113.24,351.11 114.99,352.47 116.73,353.83 118.47,355.2 120.22,356.56 121.96,357.92 123.7,359.29 125.45,360.65 127.19,362.01 128.93,363.38 130.67,364.74 132.42,366.1 134.16,367.47 135.9,368.83 137.65,370.19 139.39,371.56 141.13,372.92 142.88,374.28 144.62,375.65 146.36,377.01 148.11,378.37 149.85,379.74 151.59,381.1 153.33,382.46 155.08,383.83 156.82,385.19 158.56,386.55 160.31,387.92 162.05,389.28 163.79,390.64 165.54,392.01 167.28,393.37 169.02,394.73 170.76,396.09 172.51,397.46 174.25,398.82 175.99,400.18 177.74,401.55 179.48,402.91 181.22,404.27 182.97,405.64 184.71,407 186.45,408.36 188.19,409.73 189.94,411.09 191.68,412.45 193.42,413.82 195.17,415.18 196.91,416.54 198.65,417.91 200.4,419.27 202.14,420.63 203.88,422 205.63,423.36 207.37,424.72 209.11,426.09 210.85,427.45 212.6,428.81 214.34,430.18 216.08,431.54 217.83,432.9 219.57,434.27 221.31,435.63 223.06,436.99 224.8,438.36 226.54,439.72 228.28,441.08 230.03,442.45 231.77,443.81 233.51,445.17 235.26,446.54 237,447.9" fill="none" stroke="#43948B" stroke-width="3.5" />
<polyline points="99.3,340.2 101.04,346.69 102.79,352.58 104.53,357.95 106.27,362.87 108.02,367.4 109.76,371.57 111.5,375.43 113.24,379.01 114.99,382.34 116.73,385.45 118.47,388.36 120.22,391.08 121.96,393.64 123.7,396.04 125.45,398.31 127.19,400.45 128.93,402.48 130.67,404.39 132.42,406.21 134.16,407.94 135.9,409.58 137.65,411.14 139.39,412.63 141.13,414.05 142.88,415.41 144.62,416.71 146.36,417.95 148.11,419.14 149.85,420.28 151.59,421.38 153.33,422.43 155.08,423.45 156.82,424.42 158.56,425.36 160.31,426.26 162.05,427.13 163.79,427.97 165.54,428.78 167.28,429.57 169.02,430.33 170.76,431.06 172.51,431.77 174.25,432.45 175.99,433.12 177.74,433.76 179.48,434.39 181.22,434.99 182.97,435.58 184.71,436.15 186.45,436.71 188.19,437.24 189.94,437.77 191.68,438.28 193.42,438.77 195.17,439.26 196.91,439.72 198.65,440.18 200.4,440.63 202.14,441.06 203.88,441.49 205.63,441.9 207.37,442.3 209.11,442.69 210.85,443.08 212.6,443.45 214.34,443.82 216.08,444.18 217.83,444.52 219.57,444.87 221.31,445.2 223.06,445.53 224.8,445.85 226.54,446.16 228.28,446.46 230.03,446.76 231.77,447.06 233.51,447.34 235.26,447.62 237,447.9" fill="none" stroke="#429F30" stroke-width="3.5" />
<polyline points="99.3,340.2 101.04,341.56 102.79,342.93 104.53,344.29 106.27,345.65 108.02,347.02 109.76,348.38 111.5,349.74 113.24,351.11 114.99,352.47 116.73,353.83 118.47,355.2 120.22,356.56 121.96,357.92 123.7,359.29 125.45,360.65 127.19,362.01 128.93,363.38 130.67,364.74 132.42,366.1 134.16,367.47 135.9,368.83 137.65,370.19 139.39,371.56 141.13,372.92 142.88,374.28 144.62,375.65 146.36,377.01 148.11,378.37 149.85,379.74 151.59,381.1 153.33,382.46 155.08,383.83 156.82,385.19 158.56,386.55 160.31,387.92 162.05,389.28 163.79,390.64 165.54,392.01 167.28,393.37 169.02,394.73 170.76,396.09 172.51,397.46 174.25,398.82 175.99,400.18 177.74,401.55 179.48,402.91 181.22,404.27 182.97,405.64 184.71,407 186.45,408.36 188.19,409.73 189.94,411.09 191.68,412.45 193.42,413.82 195.17,415.18 196.91,416.54 198.65,417.91 200.4,419.27 202.14,420.63 203.88,422 205.63,423.36 207.37,424.72 209.11,426.09 210.85,427.45 212.6,428.81 214.34,430.18 216.08,431.54 217.83,432.9 219.57,434.27 221.31,435.63 223.06,436.99 224.8,438.36 226.54,439.72 228.28,441.08 230.03,442.45 231.77,443.81 233.51,445.17 235.26,446.54 237,447.9" fill="none" stroke="#000" stroke-width="3.4" stroke-dasharray="3 5.8"/>
<polyline points="99.3,340.2 101.04,346.69 102.79,352.58 104.53,357.95 106.27,362.87 108.02,367.4 109.76,371.57 111.5,375.43 113.24,379.01 114.99,382.34 116.73,385.45 118.47,388.36 120.22,391.08 121.96,393.64 123.7,396.04 125.45,398.31 127.19,400.45 128.93,402.48 130.67,404.39 132.42,406.21 134.16,407.94 135.9,409.58 137.65,411.14 139.39,412.63 141.13,414.05 142.88,415.41 144.62,416.71 146.36,417.95 148.11,419.14 149.85,420.28 151.59,421.38 153.33,422.43 155.08,423.45 156.82,424.42 158.56,425.36 160.31,426.26 162.05,427.13 163.79,427.97 165.54,428.78 167.28,429.57 169.02,430.33 170.76,431.06 172.51,431.77 174.25,432.45 175.99,433.12 177.74,433.76 179.48,434.39 181.22,434.99 182.97,435.58 184.71,436.15 186.45,436.71 188.19,437.24 189.94,437.77 191.68,438.28 193.42,438.77 195.17,439.26 196.91,439.72 198.65,440.18 200.4,440.63 202.14,441.06 203.88,441.49 205.63,441.9 207.37,442.3 209.11,442.69 210.85,443.08 212.6,443.45 214.34,443.82 216.08,444.18 217.83,444.52 219.57,444.87 221.31,445.2 223.06,445.53 224.8,445.85 226.54,446.16 228.28,446.46 230.03,446.76 231.77,447.06 233.51,447.34 235.26,447.62 237,447.9" fill="none" stroke="#000" stroke-width="3.4" stroke-dasharray="3 5.8"/>
<g><circle cx="99.3" cy="340.2" r="3.5" fill="none" stroke="#000" stroke-width="1.2" /><circle cx="124.22" cy="357.76" r="3.5" fill="none" stroke="#000" stroke-width="1.2" /><circle cx="151.76" cy="376.71" r="3.5" fill="none" stroke="#000" stroke-width="1.2" /><circle cx="172.56" cy="395.23" r="3.5" fill="none" stroke="#000" stroke-width="1.2" /><circle cx="189.22" cy="409.02" r="3.5" fill="none" stroke="#000" stroke-width="1.2" /><circle cx="200.23" cy="419.25" r="3.5" fill="none" stroke="#000" stroke-width="1.2" /><circle cx="207.67" cy="426.9" r="3.5" fill="none" stroke="#000" stroke-width="1.2" /><circle cx="215.93" cy="431.85" r="3.5" fill="none" stroke="#000" stroke-width="1.2" /><circle cx="219.79" cy="435.19" r="3.5" fill="none" stroke="#000" stroke-width="1.2" /><circle cx="224.61" cy="438.96" r="3.5" fill="none" stroke="#000" stroke-width="1.2" /><circle cx="227.64" cy="440.36" r="3.5" fill="none" stroke="#000" stroke-width="1.2" /><circle cx="230.53" cy="442.95" r="3.5" fill="none" stroke="#000" stroke-width="1.2" /><circle cx="232.87" cy="444.67" r="3.5" fill="none" stroke="#000" stroke-width="1.2" /><circle cx="234.25" cy="445.53" r="3.5" fill="none" stroke="#000" stroke-width="1.2" /><circle cx="235.62" cy="446.18" r="3.5" fill="none" stroke="#000" stroke-width="1.2" /><circle cx="236.31" cy="446.61" r="3.5" fill="none" stroke="#000" stroke-width="1.2" /><circle cx="237" cy="446.82" r="3.5" fill="none" stroke="#000" stroke-width="1.2" /><circle cx="234.93" cy="445.21" r="3.5" fill="none" stroke="#000" stroke-width="1.2" /><circle cx="99.3" cy="341.28" r="3.5" fill="none" stroke="#000" stroke-width="1.2" /><circle cx="121.33" cy="390.5" r="3.5" fill="none" stroke="#000" stroke-width="1.2" /><circle cx="136.75" cy="410.2" r="3.5" fill="none" stroke="#000" stroke-width="1.2" /><circle cx="149.84" cy="416.88" r="3.5" fill="none" stroke="#000" stroke-width="1.2" /><circle cx="161.54" cy="423.24" r="3.5" fill="none" stroke="#000" stroke-width="1.2" /><circle cx="167.46" cy="428.73" r="3.5" fill="none" stroke="#000" stroke-width="1.2" /><circle cx="175.45" cy="431.85" r="3.5" fill="none" stroke="#000" stroke-width="1.2" /><circle cx="178.48" cy="433.36" r="3.5" fill="none" stroke="#000" stroke-width="1.2" /><circle cx="181.37" cy="433.9" r="3.5" fill="none" stroke="#000" stroke-width="1.2" /><circle cx="188.39" cy="436.59" r="3.5" fill="none" stroke="#000" stroke-width="1.2" /><circle cx="192.94" cy="437.13" r="3.5" fill="none" stroke="#000" stroke-width="1.2" /><circle cx="195.69" cy="439.82" r="3.5" fill="none" stroke="#000" stroke-width="1.2" /><circle cx="198.74" cy="440.59" r="3.5" fill="none" stroke="#000" stroke-width="1.2" /><circle cx="203.18" cy="440.63" r="3.5" fill="none" stroke="#000" stroke-width="1.2" /><circle cx="203.38" cy="441.21" r="3.5" fill="none" stroke="#000" stroke-width="1.2" /><circle cx="205.03" cy="442.88" r="3.5" fill="none" stroke="#000" stroke-width="1.2" /><circle cx="208.39" cy="443.24" r="3.5" fill="none" stroke="#000" stroke-width="1.2" /><circle cx="209.93" cy="443.31" r="3.5" fill="none" stroke="#000" stroke-width="1.2" /><circle cx="209.81" cy="444.73" r="3.5" fill="none" stroke="#000" stroke-width="1.2" /><circle cx="211.72" cy="445.71" r="3.5" fill="none" stroke="#000" stroke-width="1.2" /><circle cx="214.23" cy="444.42" r="3.5" fill="none" stroke="#000" stroke-width="1.2" /><circle cx="215.51" cy="445.15" r="3.5" fill="none" stroke="#000" stroke-width="1.2" /><circle cx="216.21" cy="443.97" r="3.5" fill="none" stroke="#000" stroke-width="1.2" /><circle cx="217.46" cy="445.73" r="3.5" fill="none" stroke="#000" stroke-width="1.2" /><circle cx="218.6" cy="445.46" r="3.5" fill="none" stroke="#000" stroke-width="1.2" /><circle cx="219.1" cy="445.27" r="3.5" fill="none" stroke="#000" stroke-width="1.2" /><circle cx="218.86" cy="446.36" r="3.5" fill="none" stroke="#000" stroke-width="1.2" /><circle cx="219.71" cy="442.81" r="3.5" fill="none" stroke="#000" stroke-width="1.2" /><circle cx="220.11" cy="443.8" r="3.5" fill="none" stroke="#000" stroke-width="1.2" /><circle cx="221.93" cy="445.89" r="3.5" fill="none" stroke="#000" stroke-width="1.2" /><circle cx="222.5" cy="444.21" r="3.5" fill="none" stroke="#000" stroke-width="1.2" /><circle cx="223.23" cy="445.29" r="3.5" fill="none" stroke="#000" stroke-width="1.2" /><circle cx="225.98" cy="445.58" r="3.5" fill="none" stroke="#000" stroke-width="1.2" /><circle cx="228.74" cy="445.53" r="3.5" fill="none" stroke="#000" stroke-width="1.2" /><circle cx="231.49" cy="446.69" r="3.5" fill="none" stroke="#000" stroke-width="1.2" /><circle cx="232.87" cy="445.32" r="3.5" fill="none" stroke="#000" stroke-width="1.2" /><circle cx="234.25" cy="447.04" r="3.5" fill="none" stroke="#000" stroke-width="1.2" /><circle cx="234.93" cy="446.53" r="3.5" fill="none" stroke="#000" stroke-width="1.2" /><circle cx="235.62" cy="447.04" r="3.5" fill="none" stroke="#000" stroke-width="1.2" /><circle cx="236.31" cy="446.72" r="3.5" fill="none" stroke="#000" stroke-width="1.2" /><circle cx="237" cy="447.04" r="3.5" fill="none" stroke="#000" stroke-width="1.2" /></g>
<rect x="90" y="331.4" width="157.1" height="123.8" fill="none" stroke="#000" stroke-width="1.5" />
<line x1="99.3" y1="455.2" x2="99.3" y2="463" stroke="#000" stroke-width="1.5" />
<text x="99.3" y="481.8" font-size="12.22" fill="#000" text-anchor="middle" textLength="19.08" lengthAdjust="spacingAndGlyphs">0.0</text>
<line x1="82.2" y1="447.9" x2="90" y2="447.9" stroke="#000" stroke-width="1.5" />
<text x="73.1" y="452.3" font-size="12.22" fill="#000" text-anchor="end" textLength="19.08" lengthAdjust="spacingAndGlyphs">0.0</text>
<line x1="168.15" y1="455.2" x2="168.15" y2="463" stroke="#000" stroke-width="1.5" />
<text x="168.15" y="481.8" font-size="12.22" fill="#000" text-anchor="middle" textLength="19.08" lengthAdjust="spacingAndGlyphs">0.5</text>
<line x1="82.2" y1="394.05" x2="90" y2="394.05" stroke="#000" stroke-width="1.5" />
<text x="73.1" y="398.45" font-size="12.22" fill="#000" text-anchor="end" textLength="19.08" lengthAdjust="spacingAndGlyphs">0.5</text>
<line x1="237" y1="455.2" x2="237" y2="463" stroke="#000" stroke-width="1.5" />
<text x="237" y="481.8" font-size="12.22" fill="#000" text-anchor="middle" textLength="19.08" lengthAdjust="spacingAndGlyphs">1.0</text>
<line x1="82.2" y1="340.2" x2="90" y2="340.2" stroke="#000" stroke-width="1.5" />
<text x="73.1" y="344.6" font-size="12.22" fill="#000" text-anchor="end" textLength="19.08" lengthAdjust="spacingAndGlyphs">1.0</text>
<g transform="translate(38.9,395.2) rotate(-90)"><text x="-29.2" y="0" font-size="15.12" fill="#000" textLength="49.62" lengthAdjust="spacingAndGlyphs">Force, </text><text x="20.42" y="0" font-size="15.1" fill="#000" textLength="8.7" lengthAdjust="spacingAndGlyphs" font-style="italic">F</text></g>
<line x1="178.8" y1="339.3" x2="204.5" y2="339.3" stroke="#43948B" stroke-width="3.5" />
<line x1="178.8" y1="355.3" x2="204.5" y2="355.3" stroke="#429F30" stroke-width="3.5" />
<line x1="180.2" y1="371.8" x2="206.5" y2="371.8" stroke="#000" stroke-width="3.6" stroke-dasharray="3 6.2"/>
<circle cx="191.1" cy="388.9" r="3.5" fill="none" stroke="#000" stroke-width="1.2" />
<text x="211.5" y="343.5" font-size="12.3" fill="#000" textLength="7.2" lengthAdjust="spacingAndGlyphs" font-style="italic">α</text><text x="221.6" y="343.5" font-size="11.6" fill="#000" textLength="8.2" lengthAdjust="spacingAndGlyphs">=</text><text x="232.8" y="343.5" font-size="11.6" fill="#000" textLength="6.6" lengthAdjust="spacingAndGlyphs">0</text>
<text x="211.5" y="359.4" font-size="11.4" fill="#000" textLength="22.5" lengthAdjust="spacingAndGlyphs">α=4</text>
<text x="211.5" y="375.7" font-size="10.86" fill="#000" textLength="32.04" lengthAdjust="spacingAndGlyphs">Model</text>
<text x="211.5" y="392" font-size="10.86" fill="#000" textLength="24.01" lengthAdjust="spacingAndGlyphs">Expt</text>
<polyline points="99.3,612.3 100.69,608.21 102.08,604.2 103.47,600.28 104.86,596.44 106.25,592.69 107.65,589.01 109.04,585.43 110.43,581.92 111.82,578.5 113.21,575.16 114.6,571.9 115.99,568.73 117.38,565.65 118.77,562.64 120.16,559.72 121.55,556.88 122.95,554.13 124.34,551.46 125.73,548.87 127.12,546.37 128.51,543.95 129.9,541.61 131.29,539.36 132.68,537.19 134.07,535.1 135.46,533.1 136.85,531.18 138.25,529.34 139.64,527.59 141.03,525.92 142.42,524.33 143.81,522.83 145.2,521.41 146.59,520.08 147.98,518.82 149.37,517.66 150.76,516.57 152.15,515.57 153.55,514.65 154.94,513.82 156.33,513.07 157.72,512.4 159.11,511.81 160.5,511.31 161.89,510.9 163.28,510.56 164.67,510.31 166.06,510.14 167.45,510.06 168.85,510.06 170.24,510.14 171.63,510.31 173.02,510.56 174.41,510.9 175.8,511.31 177.19,511.81 178.58,512.4 179.97,513.07 181.36,513.82 182.75,514.65 184.15,515.57 185.54,516.57 186.93,517.66 188.32,518.82 189.71,520.08 191.1,521.41 192.49,522.83 193.88,524.33 195.27,525.92 196.66,527.59 198.05,529.34 199.45,531.18 200.84,533.1 202.23,535.1 203.62,537.19 205.01,539.36 206.4,541.61 207.79,543.95 209.18,546.37 210.57,548.87 211.96,551.46 213.35,554.13 214.75,556.88 216.14,559.72 217.53,562.64 218.92,565.65 220.31,568.73 221.7,571.9 223.09,575.16 224.48,578.5 225.87,581.92 227.26,585.43 228.65,589.01 230.05,592.69 231.44,596.44 232.83,600.28 234.22,604.2 235.61,608.21 237,612.3" fill="none" stroke="#43948B" stroke-width="3.5" />
<polyline points="99.3,612.3 100.69,608.37 102.08,604.81 103.47,601.58 104.86,598.65 106.25,595.98 107.65,593.56 109.04,591.35 110.43,589.34 111.82,587.51 113.21,585.85 114.6,584.33 115.99,582.96 117.38,581.71 118.77,580.58 120.16,579.56 121.55,578.64 122.95,577.81 124.34,577.08 125.73,576.42 127.12,575.83 128.51,575.32 129.9,574.88 131.29,574.49 132.68,574.16 134.07,573.89 135.46,573.67 136.85,573.5 138.25,573.38 139.64,573.29 141.03,573.25 142.42,573.25 143.81,573.28 145.2,573.35 146.59,573.45 147.98,573.58 149.37,573.74 150.76,573.93 152.15,574.15 153.55,574.39 154.94,574.66 156.33,574.95 157.72,575.26 159.11,575.59 160.5,575.94 161.89,576.32 163.28,576.71 164.67,577.12 166.06,577.55 167.45,577.99 168.85,578.45 170.24,578.92 171.63,579.41 173.02,579.91 174.41,580.43 175.8,580.96 177.19,581.5 178.58,582.05 179.97,582.62 181.36,583.2 182.75,583.78 184.15,584.38 185.54,584.99 186.93,585.61 188.32,586.23 189.71,586.87 191.1,587.51 192.49,588.17 193.88,588.83 195.27,589.5 196.66,590.17 198.05,590.86 199.45,591.55 200.84,592.25 202.23,592.95 203.62,593.66 205.01,594.38 206.4,595.1 207.79,595.84 209.18,596.57 210.57,597.31 211.96,598.06 213.35,598.81 214.75,599.57 216.14,600.33 217.53,601.1 218.92,601.87 220.31,602.65 221.7,603.43 223.09,604.22 224.48,605.01 225.87,605.8 227.26,606.6 228.65,607.41 230.05,608.21 231.44,609.02 232.83,609.84 234.22,610.65 235.61,611.48 237,612.3" fill="none" stroke="#429F30" stroke-width="3.5" />
<polyline points="99.3,612.3 100.69,608.21 102.08,604.2 103.47,600.28 104.86,596.44 106.25,592.69 107.65,589.01 109.04,585.43 110.43,581.92 111.82,578.5 113.21,575.16 114.6,571.9 115.99,568.73 117.38,565.65 118.77,562.64 120.16,559.72 121.55,556.88 122.95,554.13 124.34,551.46 125.73,548.87 127.12,546.37 128.51,543.95 129.9,541.61 131.29,539.36 132.68,537.19 134.07,535.1 135.46,533.1 136.85,531.18 138.25,529.34 139.64,527.59 141.03,525.92 142.42,524.33 143.81,522.83 145.2,521.41 146.59,520.08 147.98,518.82 149.37,517.66 150.76,516.57 152.15,515.57 153.55,514.65 154.94,513.82 156.33,513.07 157.72,512.4 159.11,511.81 160.5,511.31 161.89,510.9 163.28,510.56 164.67,510.31 166.06,510.14 167.45,510.06 168.85,510.06 170.24,510.14 171.63,510.31 173.02,510.56 174.41,510.9 175.8,511.31 177.19,511.81 178.58,512.4 179.97,513.07 181.36,513.82 182.75,514.65 184.15,515.57 185.54,516.57 186.93,517.66 188.32,518.82 189.71,520.08 191.1,521.41 192.49,522.83 193.88,524.33 195.27,525.92 196.66,527.59 198.05,529.34 199.45,531.18 200.84,533.1 202.23,535.1 203.62,537.19 205.01,539.36 206.4,541.61 207.79,543.95 209.18,546.37 210.57,548.87 211.96,551.46 213.35,554.13 214.75,556.88 216.14,559.72 217.53,562.64 218.92,565.65 220.31,568.73 221.7,571.9 223.09,575.16 224.48,578.5 225.87,581.92 227.26,585.43 228.65,589.01 230.05,592.69 231.44,596.44 232.83,600.28 234.22,604.2 235.61,608.21 237,612.3" fill="none" stroke="#000" stroke-width="3.4" stroke-dasharray="3 5.8"/>
<polyline points="99.3,612.3 100.69,608.37 102.08,604.81 103.47,601.58 104.86,598.65 106.25,595.98 107.65,593.56 109.04,591.35 110.43,589.34 111.82,587.51 113.21,585.85 114.6,584.33 115.99,582.96 117.38,581.71 118.77,580.58 120.16,579.56 121.55,578.64 122.95,577.81 124.34,577.08 125.73,576.42 127.12,575.83 128.51,575.32 129.9,574.88 131.29,574.49 132.68,574.16 134.07,573.89 135.46,573.67 136.85,573.5 138.25,573.38 139.64,573.29 141.03,573.25 142.42,573.25 143.81,573.28 145.2,573.35 146.59,573.45 147.98,573.58 149.37,573.74 150.76,573.93 152.15,574.15 153.55,574.39 154.94,574.66 156.33,574.95 157.72,575.26 159.11,575.59 160.5,575.94 161.89,576.32 163.28,576.71 164.67,577.12 166.06,577.55 167.45,577.99 168.85,578.45 170.24,578.92 171.63,579.41 173.02,579.91 174.41,580.43 175.8,580.96 177.19,581.5 178.58,582.05 179.97,582.62 181.36,583.2 182.75,583.78 184.15,584.38 185.54,584.99 186.93,585.61 188.32,586.23 189.71,586.87 191.1,587.51 192.49,588.17 193.88,588.83 195.27,589.5 196.66,590.17 198.05,590.86 199.45,591.55 200.84,592.25 202.23,592.95 203.62,593.66 205.01,594.38 206.4,595.1 207.79,595.84 209.18,596.57 210.57,597.31 211.96,598.06 213.35,598.81 214.75,599.57 216.14,600.33 217.53,601.1 218.92,601.87 220.31,602.65 221.7,603.43 223.09,604.22 224.48,605.01 225.87,605.8 227.26,606.6 228.65,607.41 230.05,608.21 231.44,609.02 232.83,609.84 234.22,610.65 235.61,611.48 237,612.3" fill="none" stroke="#000" stroke-width="3.4" stroke-dasharray="3 5.8"/>
<g><circle cx="99.3" cy="612.3" r="3.5" fill="none" stroke="#000" stroke-width="1.2" /><circle cx="124.22" cy="550.34" r="3.5" fill="none" stroke="#000" stroke-width="1.2" /><circle cx="151.76" cy="509.3" r="3.5" fill="none" stroke="#000" stroke-width="1.2" /><circle cx="172.56" cy="505.9" r="3.5" fill="none" stroke="#000" stroke-width="1.2" /><circle cx="189.22" cy="515.89" r="3.5" fill="none" stroke="#000" stroke-width="1.2" /><circle cx="200.23" cy="532.55" r="3.5" fill="none" stroke="#000" stroke-width="1.2" /><circle cx="207.67" cy="549.53" r="3.5" fill="none" stroke="#000" stroke-width="1.2" /><circle cx="215.93" cy="560.68" r="3.5" fill="none" stroke="#000" stroke-width="1.2" /><circle cx="219.79" cy="570.07" r="3.5" fill="none" stroke="#000" stroke-width="1.2" /><circle cx="224.61" cy="581.41" r="3.5" fill="none" stroke="#000" stroke-width="1.2" /><circle cx="227.64" cy="585.62" r="3.5" fill="none" stroke="#000" stroke-width="1.2" /><circle cx="230.53" cy="594.37" r="3.5" fill="none" stroke="#000" stroke-width="1.2" /><circle cx="232.87" cy="600.4" r="3.5" fill="none" stroke="#000" stroke-width="1.2" /><circle cx="234.25" cy="603.48" r="3.5" fill="none" stroke="#000" stroke-width="1.2" /><circle cx="235.62" cy="605.82" r="3.5" fill="none" stroke="#000" stroke-width="1.2" /><circle cx="236.31" cy="607.42" r="3.5" fill="none" stroke="#000" stroke-width="1.2" /><circle cx="237" cy="608.21" r="3.5" fill="none" stroke="#000" stroke-width="1.2" /><circle cx="234.93" cy="602.23" r="3.5" fill="none" stroke="#000" stroke-width="1.2" /><circle cx="99.3" cy="612.3" r="3.5" fill="none" stroke="#000" stroke-width="1.2" /><circle cx="121.33" cy="577.42" r="3.5" fill="none" stroke="#000" stroke-width="1.2" /><circle cx="136.75" cy="573.36" r="3.5" fill="none" stroke="#000" stroke-width="1.2" /><circle cx="149.84" cy="569.07" r="3.5" fill="none" stroke="#000" stroke-width="1.2" /><circle cx="161.54" cy="569.97" r="3.5" fill="none" stroke="#000" stroke-width="1.2" /><circle cx="167.46" cy="576.26" r="3.5" fill="none" stroke="#000" stroke-width="1.2" /><circle cx="175.45" cy="578.6" r="3.5" fill="none" stroke="#000" stroke-width="1.2" /><circle cx="178.48" cy="580.55" r="3.5" fill="none" stroke="#000" stroke-width="1.2" /><circle cx="181.37" cy="580.61" r="3.5" fill="none" stroke="#000" stroke-width="1.2" /><circle cx="188.39" cy="584.51" r="3.5" fill="none" stroke="#000" stroke-width="1.2" /><circle cx="192.94" cy="584.49" r="3.5" fill="none" stroke="#000" stroke-width="1.2" /><circle cx="195.69" cy="590.83" r="3.5" fill="none" stroke="#000" stroke-width="1.2" /><circle cx="198.74" cy="592.25" r="3.5" fill="none" stroke="#000" stroke-width="1.2" /><circle cx="203.18" cy="591.48" r="3.5" fill="none" stroke="#000" stroke-width="1.2" /><circle cx="203.38" cy="593.1" r="3.5" fill="none" stroke="#000" stroke-width="1.2" /><circle cx="205.03" cy="597.66" r="3.5" fill="none" stroke="#000" stroke-width="1.2" /><circle cx="208.39" cy="598.27" r="3.5" fill="none" stroke="#000" stroke-width="1.2" /><circle cx="209.93" cy="598.29" r="3.5" fill="none" stroke="#000" stroke-width="1.2" /><circle cx="209.81" cy="602.64" r="3.5" fill="none" stroke="#000" stroke-width="1.2" /><circle cx="211.72" cy="605.52" r="3.5" fill="none" stroke="#000" stroke-width="1.2" /><circle cx="214.23" cy="601.28" r="3.5" fill="none" stroke="#000" stroke-width="1.2" /><circle cx="215.51" cy="603.48" r="3.5" fill="none" stroke="#000" stroke-width="1.2" /><circle cx="216.21" cy="599.62" r="3.5" fill="none" stroke="#000" stroke-width="1.2" /><circle cx="217.46" cy="605.22" r="3.5" fill="none" stroke="#000" stroke-width="1.2" /><circle cx="218.6" cy="604.28" r="3.5" fill="none" stroke="#000" stroke-width="1.2" /><circle cx="219.1" cy="603.6" r="3.5" fill="none" stroke="#000" stroke-width="1.2" /><circle cx="218.86" cy="607.23" r="3.5" fill="none" stroke="#000" stroke-width="1.2" /><circle cx="219.71" cy="595.38" r="3.5" fill="none" stroke="#000" stroke-width="1.2" /><circle cx="220.11" cy="598.65" r="3.5" fill="none" stroke="#000" stroke-width="1.2" /><circle cx="221.93" cy="605.5" r="3.5" fill="none" stroke="#000" stroke-width="1.2" /><circle cx="222.5" cy="599.78" r="3.5" fill="none" stroke="#000" stroke-width="1.2" /><circle cx="223.23" cy="603.36" r="3.5" fill="none" stroke="#000" stroke-width="1.2" /><circle cx="225.98" cy="604.2" r="3.5" fill="none" stroke="#000" stroke-width="1.2" /><circle cx="228.74" cy="603.84" r="3.5" fill="none" stroke="#000" stroke-width="1.2" /><circle cx="231.49" cy="607.88" r="3.5" fill="none" stroke="#000" stroke-width="1.2" /><circle cx="232.87" cy="602.78" r="3.5" fill="none" stroke="#000" stroke-width="1.2" /><circle cx="234.25" cy="609.09" r="3.5" fill="none" stroke="#000" stroke-width="1.2" /><circle cx="234.93" cy="607.19" r="3.5" fill="none" stroke="#000" stroke-width="1.2" /><circle cx="235.62" cy="609.06" r="3.5" fill="none" stroke="#000" stroke-width="1.2" /><circle cx="236.31" cy="607.86" r="3.5" fill="none" stroke="#000" stroke-width="1.2" /><circle cx="237" cy="609.03" r="3.5" fill="none" stroke="#000" stroke-width="1.2" /></g>
<rect x="90" y="497" width="157.1" height="124.3" fill="none" stroke="#000" stroke-width="1.5" />
<line x1="99.3" y1="621.3" x2="99.3" y2="629.1" stroke="#000" stroke-width="1.5" />
<text x="99.3" y="647.3" font-size="12.22" fill="#000" text-anchor="middle" textLength="19.08" lengthAdjust="spacingAndGlyphs">0.0</text>
<line x1="168.15" y1="621.3" x2="168.15" y2="629.1" stroke="#000" stroke-width="1.5" />
<text x="168.15" y="647.3" font-size="12.22" fill="#000" text-anchor="middle" textLength="19.08" lengthAdjust="spacingAndGlyphs">0.5</text>
<line x1="237" y1="621.3" x2="237" y2="629.1" stroke="#000" stroke-width="1.5" />
<text x="237" y="647.3" font-size="12.22" fill="#000" text-anchor="middle" textLength="19.08" lengthAdjust="spacingAndGlyphs">1.0</text>
<line x1="82.2" y1="612.3" x2="90" y2="612.3" stroke="#000" stroke-width="1.5" />
<text x="73.1" y="616.7" font-size="12.22" fill="#000" text-anchor="end" textLength="19.08" lengthAdjust="spacingAndGlyphs">0.0</text>
<line x1="82.2" y1="571.4" x2="90" y2="571.4" stroke="#000" stroke-width="1.5" />
<text x="73.1" y="575.8" font-size="12.22" fill="#000" text-anchor="end" textLength="19.08" lengthAdjust="spacingAndGlyphs">0.1</text>
<line x1="82.2" y1="530.5" x2="90" y2="530.5" stroke="#000" stroke-width="1.5" />
<text x="73.1" y="534.9" font-size="12.22" fill="#000" text-anchor="end" textLength="19.08" lengthAdjust="spacingAndGlyphs">0.2</text>
<text x="127.2" y="671" font-size="15.83" fill="#000" textLength="70.89" lengthAdjust="spacingAndGlyphs">Velocity, </text><text x="198.09" y="671" font-size="15.8" fill="#000" textLength="10.6" lengthAdjust="spacingAndGlyphs" font-style="italic">V</text>
<g transform="translate(38.3,621.13) rotate(-90) scale(1.032,1)"><text x="0" y="0" font-size="14.93" fill="#000" textLength="53.68" lengthAdjust="spacingAndGlyphs">Power, </text><text x="53.68" y="0" font-size="14.9" fill="#000" textLength="14.5" lengthAdjust="spacingAndGlyphs" font-style="italic">W</text><circle cx="63.18" cy="-13.3" r="1" fill="#000" stroke="none" stroke-width="1" /><text x="72.68" y="0" font-size="14.9" fill="#000" textLength="12.3" lengthAdjust="spacingAndGlyphs">=</text><text x="89.48" y="0" font-size="14.9" fill="#000" textLength="8.6" lengthAdjust="spacingAndGlyphs" font-style="italic">F</text><circle cx="103.08" cy="-5.2" r="1" fill="#000" stroke="none" stroke-width="1" /><text x="108.08" y="0" font-size="14.9" fill="#000" textLength="10" lengthAdjust="spacingAndGlyphs" font-style="italic">V</text></g>
<clipPath id="cg"><rect x="326.9" y="259.2" width="356.4" height="162.10000000000002"/></clipPath>
<g clip-path="url(#cg)" stroke-linejoin="round">
<line x1="326.9" y1="275.4" x2="683.3" y2="275.4" stroke="#000" stroke-width="3" />
<polyline points="326.92,275.38 331.15,303.08 335.38,303.08 339.81,314.23 344.42,299.62 348.85,299.62 353.65,294.42 358.08,294.42 362.69,285.77 367.12,296.35 371.54,285.77 376.15,289.62 380.58,285.77 385.38,285.38 389.62,285.38 394.04,282.88 398.85,284.23 403.27,281.92 407.88,285.77 412.31,279.62 417.12,281.54 421.54,280.38 426.15,279.42 430.58,281.92 435.38,281.15 440.19,280.96 444.42,279.62 449.04,279.04 453.46,280.96 458.27,281.54 462.69,280.96 467.31,279.62 471.73,278.46 476.54,278.46 480.96,280.96 485.58,280 490,279.04 494.81,281.92 499.23,280 503.85,279.04 508.27,280.96 513.08,279.04 517.5,280 522.12,280.96 526.54,280 530.96,282.88 535.58,280.96 540,280 544.81,281.92 549.23,280.96 553.85,279.62 555,280 559.42,281.92 564.04,280 568.46,279.04 573.27,281.92 577.69,280 582.31,279.62 586.73,281.92 591.54,282.5 595.96,280 600.58,281.92 605,280 609.81,279.04 614.23,280.38 618.85,279.62 623.27,280 628.08,281.92 632.5,280 637.12,280.38 641.54,282.5 645.96,280 650.58,279.04 655,280.96 659.81,279.04 664.23,280.96 668.85,280 673.27,280.38 678.08,280 683.46,281.92" fill="none" stroke="#3A7EBF" stroke-width="3" />
<polyline points="326.92,275.38 331.15,316.54 335.38,312.69 339.81,322.31 344.42,319.42 348.85,312.31 353.65,309.42 358.08,308.27 362.69,310.77 367.12,309.81 371.54,309.42 376.15,307.88 380.58,306.54 385.38,305 389.62,302.69 394.04,300.19 398.85,295.38 403.27,291.54 407.88,291.54 412.31,291.54 417.12,292.88 421.54,285.77 426.15,286.73 430.58,283.85 435.38,287.69 440.19,289.23 444.42,283.46 449.04,285.77 453.46,281.92 458.27,290.58 462.69,285.77 467.31,280.96 471.73,283.85 476.54,285.19 480.96,284.81 485.58,282.88 490,282.5 494.81,280 499.23,284.81 503.85,285.77 508.27,284.81 513.08,283.46 517.5,280 522.12,280.96 526.54,280.96 530.96,279.62 535.58,284.81 540,283.85 544.81,283.85 549.23,280.96 553.85,279.62 555,280 559.42,285.77 564.04,286.73 568.46,283.85 573.27,281.92 577.69,280.96 582.31,285.77 586.73,286.73 591.54,285.77 595.96,287.69 600.58,285.77 605,283.85 609.81,281.92 614.23,280.96 618.85,281.92 623.27,282.88 628.08,280.96 632.5,282.88 637.12,283.85 641.54,283.85 645.96,283.85 650.58,286.73 655,283.85 659.81,282.88 664.23,280.96 668.85,279.62 673.27,282.88 678.08,282.88 683.46,282.88" fill="none" stroke="#F6821F" stroke-width="3" />
<polyline points="326.92,275.38 331.15,326.15 335.38,332.88 339.81,338.65 344.42,336.73 348.85,347.31 353.65,349.81 358.08,349.23 362.69,350.19 367.12,349.23 371.54,349.23 376.15,348.27 380.58,350.19 385.38,343.46 389.62,342.5 394.04,340.58 398.85,336.73 403.27,335.77 407.88,331.92 412.31,330 417.12,330.96 421.54,328.08 426.15,321.35 430.58,313.65 435.38,312.31 440.19,314.23 444.42,308.85 449.04,311.73 453.46,312.69 458.27,306.92 462.69,301.15 467.31,293.46 471.73,289.62 476.54,293.46 480.96,298.27 485.58,298.85 490,295 494.81,299.23 499.23,296.92 503.85,295.38 508.27,293.46 513.08,291.54 517.5,289.62 522.12,289.23 526.54,285.77 530.96,291.15 535.58,285.77 540,284.81 544.81,287.31 549.23,283.85 553.85,282.88 555,285.77 559.42,289.62 564.04,290.58 568.46,288.65 573.27,285.77 577.69,282.88 582.31,282.88 586.73,285.77 591.54,287.69 595.96,291.54 600.58,292.5 605,291.54 609.81,288.65 614.23,285.77 618.85,283.85 623.27,283.46 628.08,284.81 632.5,285.77 637.12,285.38 641.54,284.81 645.96,283.85 650.58,281.92 655,285.77 659.81,284.81 664.23,283.46 668.85,283.85 673.27,281.92 678.08,282.88 683.46,283.85" fill="none" stroke="#3DAE2B" stroke-width="3" />
<polyline points="326.92,275.38 331.15,331.92 335.38,338.65 339.81,343.46 344.42,361.73 348.85,366.54 353.65,369.81 358.08,371.73 362.69,370.38 367.12,368.46 371.54,370.38 376.15,367.12 380.58,365.58 385.38,363.65 389.62,363.65 394.04,357.88 398.85,355 403.27,355 407.88,351.15 412.31,349.23 417.12,348.27 421.54,344.42 426.15,339.62 430.58,341.15 435.38,339.62 440.19,333.85 444.42,334.81 449.04,330 453.46,324.23 458.27,321.35 462.69,326.15 467.31,318.46 471.73,323.27 476.54,319.42 480.96,313.27 485.58,313.65 490,316.15 494.81,317.5 499.23,323.27 503.85,327.12 508.27,327.12 513.08,325.77 517.5,322.31 522.12,316.54 526.54,310.77 530.96,305.38 535.58,309.81 540,311.73 544.81,306.92 549.23,303.08 553.85,308.85 555,306.92 559.42,305.96 564.04,307.88 568.46,305 573.27,301.15 577.69,303.08 582.31,299.23 586.73,302.12 591.54,298.27 595.96,301.15 600.58,298.27 605,299.23 609.81,295.38 614.23,297.31 616.54,302.12 621.35,298.27 625.77,296.35 630.38,295.38 634.81,291.54 639.62,298.27 644.04,293.46 648.65,291.54 653.08,292.5 657.88,289.62 662.31,290.58 666.92,288.65 671.35,285.77 675.77,289.62 680,286.73 683.46,283.85" fill="none" stroke="#DA252B" stroke-width="3" />
<polyline points="326.92,275.38 330,337.5 335.38,357.69 339.81,371.15 344.42,383.65 348.85,384.62 353.65,390 358.08,394.23 362.69,393.85 367.12,392.88 371.54,393.85 376.15,390 380.58,389.42 385.38,387.5 389.62,387.5 394.04,383.65 398.85,383.65 403.27,383.65 407.88,379.81 412.31,375.96 417.12,374.62 421.54,373.08 426.15,374.62 430.58,371.15 435.38,370.77 440.19,368.27 444.42,365.58 449.04,364.23 453.46,360.38 458.27,355.38 462.69,355.38 467.31,355 471.73,351.15 476.54,347.31 480.96,342.5 485.58,337.31 490,333.85 494.81,338.65 499.23,335.77 503.85,331.54 508.27,331.54 513.08,333.46 517.5,326.15 522.12,325.19 526.54,329.04 530.96,333.46 535.58,331.92 540,329.62 544.81,324.23 549.23,320 553.85,320 555,320.38 559.42,323.27 565.96,327.69 570.38,322.31 575.19,316.15 579.62,314.62 583.85,322.31 588.65,319.42 593.46,314.62 598.27,316.54 602.69,316.54 607.31,311.73 611.73,314.62 616.54,310.77 621.35,310.77 625.77,312.69 630.38,306.92 634.81,311.73 639.62,306.92 644.04,310.77 648.65,305.96 653.08,307.88 657.88,305.96 662.31,302.12 666.92,304.04 671.35,299.23 675.77,303.08 680,301.15 683.46,296.35" fill="none" stroke="#9A66D0" stroke-width="3" />
</g>
<rect x="326.9" y="259.2" width="356.4" height="162.1" fill="none" stroke="#777" stroke-width="0.9" />
<line x1="327" y1="421.3" x2="327" y2="424.9" stroke="#555" stroke-width="0.9" />
<text x="327" y="437.1" font-size="12.11" fill="#000" text-anchor="middle" textLength="18.93" lengthAdjust="spacingAndGlyphs">0.0</text>
<line x1="374.4" y1="421.3" x2="374.4" y2="424.9" stroke="#555" stroke-width="0.9" />
<text x="374.4" y="437.1" font-size="12.11" fill="#000" text-anchor="middle" textLength="18.93" lengthAdjust="spacingAndGlyphs">0.2</text>
<line x1="421.8" y1="421.3" x2="421.8" y2="424.9" stroke="#555" stroke-width="0.9" />
<text x="421.8" y="437.1" font-size="12.11" fill="#000" text-anchor="middle" textLength="18.93" lengthAdjust="spacingAndGlyphs">0.4</text>
<line x1="469.2" y1="421.3" x2="469.2" y2="424.9" stroke="#555" stroke-width="0.9" />
<text x="469.2" y="437.1" font-size="12.11" fill="#000" text-anchor="middle" textLength="18.93" lengthAdjust="spacingAndGlyphs">0.6</text>
<line x1="516.6" y1="421.3" x2="516.6" y2="424.9" stroke="#555" stroke-width="0.9" />
<text x="516.6" y="437.1" font-size="12.11" fill="#000" text-anchor="middle" textLength="18.93" lengthAdjust="spacingAndGlyphs">0.8</text>
<line x1="564" y1="421.3" x2="564" y2="424.9" stroke="#555" stroke-width="0.9" />
<text x="564" y="437.1" font-size="12.11" fill="#000" text-anchor="middle" textLength="18.93" lengthAdjust="spacingAndGlyphs">1.0</text>
<line x1="611.4" y1="421.3" x2="611.4" y2="424.9" stroke="#555" stroke-width="0.9" />
<text x="611.4" y="437.1" font-size="12.11" fill="#000" text-anchor="middle" textLength="18.93" lengthAdjust="spacingAndGlyphs">1.2</text>
<line x1="658.8" y1="421.3" x2="658.8" y2="424.9" stroke="#555" stroke-width="0.9" />
<text x="658.8" y="437.1" font-size="12.11" fill="#000" text-anchor="middle" textLength="18.93" lengthAdjust="spacingAndGlyphs">1.4</text>
<line x1="323.3" y1="405.4" x2="326.9" y2="405.4" stroke="#555" stroke-width="0.9" />
<text x="320.4" y="409.8" font-size="12.11" fill="#000" text-anchor="end" textLength="18.93" lengthAdjust="spacingAndGlyphs">0.6</text>
<line x1="323.3" y1="372.9" x2="326.9" y2="372.9" stroke="#555" stroke-width="0.9" />
<text x="320.4" y="377.3" font-size="12.11" fill="#000" text-anchor="end" textLength="18.93" lengthAdjust="spacingAndGlyphs">0.7</text>
<line x1="323.3" y1="340.4" x2="326.9" y2="340.4" stroke="#555" stroke-width="0.9" />
<text x="320.4" y="344.8" font-size="12.11" fill="#000" text-anchor="end" textLength="18.93" lengthAdjust="spacingAndGlyphs">0.8</text>
<line x1="323.3" y1="307.9" x2="326.9" y2="307.9" stroke="#555" stroke-width="0.9" />
<text x="320.4" y="312.3" font-size="12.11" fill="#000" text-anchor="end" textLength="18.93" lengthAdjust="spacingAndGlyphs">0.9</text>
<line x1="323.3" y1="275.4" x2="326.9" y2="275.4" stroke="#555" stroke-width="0.9" />
<text x="320.4" y="279.8" font-size="12.11" fill="#000" text-anchor="end" textLength="18.93" lengthAdjust="spacingAndGlyphs">1.0</text>
<text x="504.6" y="453.3" font-size="14.86" fill="#000" text-anchor="middle" textLength="64.01" lengthAdjust="spacingAndGlyphs">Time, [s]</text>
<g transform="translate(294.2,379) rotate(-90) scale(0.975,1)"><text x="0" y="0" font-size="14.3" fill="#000" textLength="9.6" lengthAdjust="spacingAndGlyphs" font-style="italic">V</text><text x="11" y="-5.5" font-size="10" fill="#000" textLength="6.5" lengthAdjust="spacingAndGlyphs">−</text><text x="24.5" y="0" font-size="14.3" fill="#000" textLength="11" lengthAdjust="spacingAndGlyphs">=</text><text x="41.5" y="0" font-size="14.3" fill="#000" textLength="8.5" lengthAdjust="spacingAndGlyphs" font-style="italic" font-family="Liberation Serif">E</text><text x="50.5" y="0" font-size="14.3" fill="#000" textLength="30" lengthAdjust="spacingAndGlyphs">/12V</text></g>
<rect x="609" y="317" width="68.2" height="99.2" fill="#fff" stroke="#d0d0d0" stroke-width="0.9" rx="2.5" fill-opacity="0.8"/>
<line x1="612" y1="325.6" x2="637.8" y2="325.6" stroke="#000" stroke-width="3" />
<text x="645" y="329.9" font-size="13" fill="#000" textLength="8.2" lengthAdjust="spacingAndGlyphs" font-style="italic">α</text><text x="655.5" y="329.9" font-size="12.1" fill="#000" textLength="18.5" lengthAdjust="spacingAndGlyphs">= 0</text>
<line x1="612" y1="341.7" x2="637.8" y2="341.7" stroke="#3A7EBF" stroke-width="3" />
<text x="645" y="346" font-size="13" fill="#000" textLength="8.2" lengthAdjust="spacingAndGlyphs" font-style="italic">α</text><text x="655.5" y="346" font-size="12.1" fill="#000" textLength="18.5" lengthAdjust="spacingAndGlyphs">= 1</text>
<line x1="612" y1="357.8" x2="637.8" y2="357.8" stroke="#F6821F" stroke-width="3" />
<text x="645" y="362.1" font-size="13" fill="#000" textLength="8.2" lengthAdjust="spacingAndGlyphs" font-style="italic">α</text><text x="655.5" y="362.1" font-size="12.1" fill="#000" textLength="18.5" lengthAdjust="spacingAndGlyphs">= 2</text>
<line x1="612" y1="373.9" x2="637.8" y2="373.9" stroke="#3DAE2B" stroke-width="3" />
<text x="645" y="378.2" font-size="13" fill="#000" textLength="8.2" lengthAdjust="spacingAndGlyphs" font-style="italic">α</text><text x="655.5" y="378.2" font-size="12.1" fill="#000" textLength="18.5" lengthAdjust="spacingAndGlyphs">= 3</text>
<line x1="612" y1="390" x2="637.8" y2="390" stroke="#DA252B" stroke-width="3" />
<text x="645" y="394.3" font-size="13" fill="#000" textLength="8.2" lengthAdjust="spacingAndGlyphs" font-style="italic">α</text><text x="655.5" y="394.3" font-size="12.1" fill="#000" textLength="18.5" lengthAdjust="spacingAndGlyphs">= 4</text>
<line x1="612" y1="406.1" x2="637.8" y2="406.1" stroke="#9A66D0" stroke-width="3" />
<text x="645" y="410.4" font-size="13" fill="#000" textLength="8.2" lengthAdjust="spacingAndGlyphs" font-style="italic">α</text><text x="655.5" y="410.4" font-size="12.1" fill="#000" textLength="18.5" lengthAdjust="spacingAndGlyphs">= 5</text>
<g fill="#EE7C84" fill-opacity="0.9" stroke="#5a2226" stroke-width="0.45"><circle cx="343.73" cy="586.43" r="3.6"/><circle cx="348.57" cy="586.22" r="3.6"/><circle cx="348.38" cy="590.55" r="3.6"/><circle cx="351.7" cy="585.08" r="3.6"/><circle cx="351.13" cy="587.53" r="3.6"/><circle cx="351.62" cy="588.95" r="3.6"/><circle cx="352.6" cy="586.97" r="3.6"/><circle cx="353.23" cy="586.94" r="3.6"/><circle cx="353.77" cy="587.78" r="3.6"/><circle cx="354.61" cy="583.98" r="3.6"/><circle cx="355.6" cy="585.94" r="3.6"/><circle cx="357.83" cy="587.78" r="3.6"/><circle cx="358.87" cy="587.36" r="3.6"/><circle cx="358.14" cy="588.25" r="3.6"/><circle cx="356.41" cy="587.68" r="3.6"/><circle cx="358.67" cy="586.49" r="3.6"/><circle cx="359.88" cy="584.87" r="3.6"/><circle cx="361.5" cy="587.38" r="3.6"/><circle cx="361.58" cy="588.25" r="3.6"/><circle cx="361.33" cy="586.86" r="3.6"/><circle cx="362.11" cy="586.74" r="3.6"/><circle cx="363.04" cy="584.07" r="3.6"/><circle cx="363.87" cy="585.18" r="3.6"/><circle cx="364.64" cy="585.05" r="3.6"/><circle cx="366.83" cy="584.17" r="3.6"/><circle cx="367.43" cy="587.26" r="3.6"/><circle cx="367.03" cy="586.9" r="3.6"/><circle cx="368.11" cy="585.61" r="3.6"/><circle cx="366.31" cy="585.72" r="3.6"/><circle cx="369.06" cy="588.96" r="3.6"/><circle cx="368.02" cy="583.63" r="3.6"/><circle cx="369.17" cy="586.8" r="3.6"/><circle cx="370.94" cy="585.96" r="3.6"/><circle cx="370.19" cy="586.14" r="3.6"/><circle cx="372.06" cy="586.47" r="3.6"/><circle cx="372.05" cy="588.61" r="3.6"/><circle cx="372.4" cy="585.88" r="3.6"/><circle cx="375.51" cy="584.5" r="3.6"/><circle cx="374.75" cy="586.88" r="3.6"/><circle cx="375.02" cy="587.98" r="3.6"/><circle cx="374.91" cy="585.23" r="3.6"/><circle cx="377.48" cy="581.98" r="3.6"/><circle cx="377.03" cy="583.16" r="3.6"/><circle cx="379.47" cy="583.48" r="3.6"/><circle cx="379.47" cy="583.76" r="3.6"/><circle cx="378.05" cy="584.15" r="3.6"/><circle cx="379.34" cy="583.35" r="3.6"/><circle cx="380.3" cy="582.38" r="3.6"/><circle cx="379.67" cy="579.64" r="3.6"/><circle cx="383.07" cy="581.91" r="3.6"/><circle cx="381.98" cy="581.92" r="3.6"/><circle cx="383.89" cy="580.06" r="3.6"/><circle cx="384.36" cy="584.03" r="3.6"/><circle cx="383.85" cy="578.45" r="3.6"/><circle cx="385.59" cy="582.53" r="3.6"/><circle cx="385.4" cy="582.51" r="3.6"/><circle cx="385.96" cy="577.52" r="3.6"/><circle cx="387.26" cy="576.87" r="3.6"/><circle cx="388.26" cy="581.01" r="3.6"/><circle cx="388.28" cy="574.19" r="3.6"/><circle cx="388.86" cy="579.86" r="3.6"/><circle cx="391.12" cy="576.52" r="3.6"/><circle cx="390.82" cy="574.21" r="3.6"/><circle cx="390.11" cy="576.51" r="3.6"/><circle cx="391.34" cy="579.09" r="3.6"/><circle cx="392.21" cy="573.97" r="3.6"/><circle cx="393.42" cy="578.66" r="3.6"/><circle cx="393.33" cy="572.64" r="3.6"/><circle cx="395.7" cy="575.96" r="3.6"/><circle cx="397.49" cy="573.56" r="3.6"/><circle cx="395.3" cy="574.48" r="3.6"/><circle cx="397.67" cy="569.87" r="3.6"/><circle cx="398.42" cy="573.1" r="3.6"/><circle cx="397.83" cy="575.33" r="3.6"/><circle cx="398.9" cy="573.11" r="3.6"/><circle cx="399.83" cy="573.74" r="3.6"/><circle cx="399.9" cy="573" r="3.6"/><circle cx="400.03" cy="573.47" r="3.6"/><circle cx="400.86" cy="572.94" r="3.6"/><circle cx="402.8" cy="569.38" r="3.6"/><circle cx="401.97" cy="569.16" r="3.6"/><circle cx="403.93" cy="566.18" r="3.6"/><circle cx="404.22" cy="569.02" r="3.6"/><circle cx="404.51" cy="568.23" r="3.6"/><circle cx="406.12" cy="567.09" r="3.6"/><circle cx="406.21" cy="566.33" r="3.6"/><circle cx="407.16" cy="566.28" r="3.6"/><circle cx="407.02" cy="566.44" r="3.6"/><circle cx="407.65" cy="567.94" r="3.6"/><circle cx="409.25" cy="561.53" r="3.6"/><circle cx="410.59" cy="564.46" r="3.6"/><circle cx="410.33" cy="562.85" r="3.6"/><circle cx="412.25" cy="561.15" r="3.6"/><circle cx="411.68" cy="563.4" r="3.6"/><circle cx="412.25" cy="563.89" r="3.6"/><circle cx="412.51" cy="563.65" r="3.6"/><circle cx="412.15" cy="565.61" r="3.6"/><circle cx="414.88" cy="563.31" r="3.6"/><circle cx="415.65" cy="563.46" r="3.6"/><circle cx="415.6" cy="560.43" r="3.6"/><circle cx="415.75" cy="562.34" r="3.6"/><circle cx="419.22" cy="559.98" r="3.6"/><circle cx="417.37" cy="561.01" r="3.6"/><circle cx="418.63" cy="559.18" r="3.6"/><circle cx="420.07" cy="556.74" r="3.6"/><circle cx="419.64" cy="559.11" r="3.6"/><circle cx="419.51" cy="561.26" r="3.6"/><circle cx="420.73" cy="556.41" r="3.6"/><circle cx="422.09" cy="555.38" r="3.6"/><circle cx="423.42" cy="556.25" r="3.6"/><circle cx="425.02" cy="555.83" r="3.6"/></g>
<polyline points="345.6,577.57 347.66,574.78 349.71,572.26 351.77,570.1 353.82,568.06 355.88,566.17 357.93,564.46 359.99,562.95 362.05,561.67 364.1,560.54 366.16,559.52 368.21,558.59 370.27,557.71 372.32,556.88 374.38,556.05 376.44,555.22 378.49,554.37 380.55,553.52 382.6,552.69 384.66,551.89 386.72,551.11 388.77,550.36 390.83,549.66 392.88,549 394.94,548.39 396.99,547.81 399.05,547.26 401.11,546.72 403.16,546.2 405.22,545.7 407.27,545.19 409.33,544.68 411.38,544.16 413.44,543.64 415.5,543.13 417.55,542.64 419.61,542.19 421.66,541.8 423.72,541.46 425.77,541.18 427.83,540.93 429.89,540.71 431.94,540.51 434,540.3 436.05,540.08 438.11,539.84 440.17,539.57 442.22,539.28 444.28,538.96 446.33,538.63 448.39,538.3 450.44,537.97 452.5,537.66 454.56,537.37 456.61,537.04 458.67,536.7 460.72,536.4 462.78,536.22 464.83,536.29 466.89,536.79" fill="none" stroke="#000" stroke-width="3.3" stroke-dasharray="12 4.8"/>
<rect x="335.7" y="490.4" width="140.5" height="147.2" fill="none" stroke="#777" stroke-width="0.9" />
<line x1="345.6" y1="637.6" x2="345.6" y2="641.2" stroke="#555" stroke-width="0.9" />
<text x="345.6" y="655.1" font-size="14.56" fill="#000" text-anchor="middle" textLength="9.1" lengthAdjust="spacingAndGlyphs">0</text>
<line x1="376.7" y1="637.6" x2="376.7" y2="641.2" stroke="#555" stroke-width="0.9" />
<text x="376.7" y="655.1" font-size="14.56" fill="#000" text-anchor="middle" textLength="9.1" lengthAdjust="spacingAndGlyphs">2</text>
<line x1="407.8" y1="637.6" x2="407.8" y2="641.2" stroke="#555" stroke-width="0.9" />
<text x="407.8" y="655.1" font-size="14.56" fill="#000" text-anchor="middle" textLength="9.1" lengthAdjust="spacingAndGlyphs">4</text>
<line x1="438.9" y1="637.6" x2="438.9" y2="641.2" stroke="#555" stroke-width="0.9" />
<text x="438.9" y="655.1" font-size="14.56" fill="#000" text-anchor="middle" textLength="9.1" lengthAdjust="spacingAndGlyphs">6</text>
<line x1="470" y1="637.6" x2="470" y2="641.2" stroke="#555" stroke-width="0.9" />
<text x="470" y="655.1" font-size="14.56" fill="#000" text-anchor="middle" textLength="9.1" lengthAdjust="spacingAndGlyphs">8</text>
<line x1="332.1" y1="637.85" x2="335.7" y2="637.85" stroke="#555" stroke-width="0.9" />
<text x="329.7" y="643.15" font-size="14.56" fill="#000" text-anchor="end" textLength="31.84" lengthAdjust="spacingAndGlyphs">0.35</text>
<line x1="332.1" y1="608.3" x2="335.7" y2="608.3" stroke="#555" stroke-width="0.9" />
<text x="329.7" y="613.6" font-size="14.56" fill="#000" text-anchor="end" textLength="31.84" lengthAdjust="spacingAndGlyphs">0.40</text>
<line x1="332.1" y1="578.75" x2="335.7" y2="578.75" stroke="#555" stroke-width="0.9" />
<text x="329.7" y="584.05" font-size="14.56" fill="#000" text-anchor="end" textLength="31.84" lengthAdjust="spacingAndGlyphs">0.45</text>
<line x1="332.1" y1="549.2" x2="335.7" y2="549.2" stroke="#555" stroke-width="0.9" />
<text x="329.7" y="554.5" font-size="14.56" fill="#000" text-anchor="end" textLength="31.84" lengthAdjust="spacingAndGlyphs">0.50</text>
<line x1="332.1" y1="519.65" x2="335.7" y2="519.65" stroke="#555" stroke-width="0.9" />
<text x="329.7" y="524.95" font-size="14.56" fill="#000" text-anchor="end" textLength="31.84" lengthAdjust="spacingAndGlyphs">0.55</text>
<line x1="332.1" y1="490.1" x2="335.7" y2="490.1" stroke="#555" stroke-width="0.9" />
<text x="329.7" y="495.4" font-size="14.56" fill="#000" text-anchor="end" textLength="31.84" lengthAdjust="spacingAndGlyphs">0.60</text>
<text x="353.9" y="671.8" font-size="14.56" fill="#000" textLength="96.09" lengthAdjust="spacingAndGlyphs">Nonlinearity, </text><text x="449.99" y="671.8" font-size="15.5" fill="#000" textLength="9.6" lengthAdjust="spacingAndGlyphs" font-style="italic">α</text>
<text x="290.3" y="568.3" font-size="15" fill="#000" textLength="9" lengthAdjust="spacingAndGlyphs" font-style="italic" transform="rotate(-90 290.3 568.3)">η</text>
<polyline points="547.5,508.4 549.59,514.66 551.68,520.46 553.77,525.83 555.86,530.83 557.94,535.49 560.03,539.86 562.12,543.95 564.21,547.8 566.3,551.43 568.39,554.85 570.48,558.09 572.57,561.16 574.65,564.07 576.74,566.83 578.83,569.47 580.92,571.97 583.01,574.37 585.1,576.65 587.19,578.84 589.28,580.93 591.37,582.94 593.45,584.87 595.54,586.72 597.63,588.49 599.72,590.21 601.81,591.85 603.9,593.44 605.99,594.97 608.08,596.45 610.16,597.88 612.25,599.25 614.34,600.59 616.43,601.88 618.52,603.13 620.61,604.34 622.7,605.51 624.79,606.65 626.87,607.76 628.96,608.83 631.05,609.87 633.14,610.89 635.23,611.87 637.32,612.83 639.41,613.76 641.5,614.67 643.59,615.55 645.67,616.42 647.76,617.26 649.85,618.07 651.94,618.87 654.03,619.65 656.12,620.41 658.21,621.16 660.3,621.88 662.38,622.59 664.47,623.28 666.56,623.96 668.65,624.62 670.74,625.27" fill="none" stroke="#000" stroke-width="3.3" stroke-dasharray="12 4.8"/>
<g fill="#4167E0" fill-opacity="0.9" stroke="#1a2550" stroke-width="0.5"><circle cx="545.16" cy="497.27" r="3.6"/><circle cx="558.73" cy="569.62" r="3.6"/><circle cx="559.98" cy="556.63" r="3.6"/><circle cx="551.45" cy="520.27" r="3.6"/><circle cx="553.81" cy="523.43" r="3.6"/><circle cx="554.33" cy="528.04" r="3.6"/><circle cx="554.29" cy="528.58" r="3.6"/><circle cx="553.63" cy="527.44" r="3.6"/><circle cx="556" cy="531.53" r="3.6"/><circle cx="555.63" cy="533.57" r="3.6"/><circle cx="556.42" cy="534.34" r="3.6"/><circle cx="557.14" cy="533.58" r="3.6"/><circle cx="555.96" cy="532.19" r="3.6"/><circle cx="557.21" cy="536.88" r="3.6"/><circle cx="558" cy="534.07" r="3.6"/><circle cx="560.09" cy="539.81" r="3.6"/><circle cx="559.61" cy="543.12" r="3.6"/><circle cx="560.51" cy="541.3" r="3.6"/><circle cx="561.37" cy="541.91" r="3.6"/><circle cx="561.76" cy="540.22" r="3.6"/><circle cx="563.16" cy="542.42" r="3.6"/><circle cx="563.46" cy="547.89" r="3.6"/><circle cx="563.23" cy="545.17" r="3.6"/><circle cx="565.31" cy="550.33" r="3.6"/><circle cx="565.44" cy="551.49" r="3.6"/><circle cx="565.41" cy="551.49" r="3.6"/><circle cx="564.89" cy="552.18" r="3.6"/><circle cx="567" cy="553.25" r="3.6"/><circle cx="568.42" cy="554.45" r="3.6"/><circle cx="568.53" cy="555.9" r="3.6"/><circle cx="567.06" cy="553.52" r="3.6"/><circle cx="568.74" cy="555.27" r="3.6"/><circle cx="569.83" cy="558.78" r="3.6"/><circle cx="570.24" cy="559.32" r="3.6"/><circle cx="569.76" cy="561.47" r="3.6"/><circle cx="572.83" cy="561.52" r="3.6"/><circle cx="572.16" cy="562.29" r="3.6"/><circle cx="572.84" cy="555.29" r="3.6"/><circle cx="574.14" cy="564.31" r="3.6"/><circle cx="573.83" cy="569.12" r="3.6"/><circle cx="575.07" cy="562.5" r="3.6"/><circle cx="576.31" cy="566.63" r="3.6"/><circle cx="575.73" cy="569.08" r="3.6"/><circle cx="576.88" cy="568.87" r="3.6"/><circle cx="576.55" cy="563.87" r="3.6"/><circle cx="577.32" cy="569.73" r="3.6"/><circle cx="576.81" cy="564.1" r="3.6"/><circle cx="579.16" cy="570.98" r="3.6"/><circle cx="580.12" cy="573.84" r="3.6"/><circle cx="580.03" cy="571.22" r="3.6"/><circle cx="580.49" cy="571.71" r="3.6"/><circle cx="582.69" cy="573.27" r="3.6"/><circle cx="583.46" cy="573.44" r="3.6"/><circle cx="584.33" cy="576.13" r="3.6"/><circle cx="583.93" cy="578.75" r="3.6"/><circle cx="584.07" cy="578.1" r="3.6"/><circle cx="584.77" cy="579.56" r="3.6"/><circle cx="585.69" cy="572.51" r="3.6"/><circle cx="585.46" cy="576.71" r="3.6"/><circle cx="587.16" cy="581.39" r="3.6"/><circle cx="587.06" cy="580.82" r="3.6"/><circle cx="588.25" cy="582.28" r="3.6"/><circle cx="590.55" cy="581.2" r="3.6"/><circle cx="590.03" cy="577.83" r="3.6"/><circle cx="590.83" cy="583.62" r="3.6"/><circle cx="590.66" cy="583.14" r="3.6"/><circle cx="591.2" cy="581.57" r="3.6"/><circle cx="590.06" cy="586.36" r="3.6"/><circle cx="591.97" cy="583.46" r="3.6"/><circle cx="592.45" cy="585.34" r="3.6"/><circle cx="594.31" cy="585.09" r="3.6"/><circle cx="593.98" cy="587.04" r="3.6"/><circle cx="593.53" cy="584.82" r="3.6"/><circle cx="595.38" cy="589.68" r="3.6"/><circle cx="596.29" cy="589.17" r="3.6"/><circle cx="596.25" cy="591.99" r="3.6"/><circle cx="597.82" cy="591.36" r="3.6"/><circle cx="597.97" cy="589.3" r="3.6"/><circle cx="597.92" cy="589.91" r="3.6"/><circle cx="598.78" cy="591.05" r="3.6"/><circle cx="599.73" cy="592.69" r="3.6"/><circle cx="600.72" cy="591.82" r="3.6"/><circle cx="599.89" cy="590.51" r="3.6"/><circle cx="601.1" cy="591.34" r="3.6"/><circle cx="600.21" cy="590.92" r="3.6"/><circle cx="600.89" cy="593.23" r="3.6"/><circle cx="605.74" cy="594.46" r="3.6"/><circle cx="604.68" cy="596.74" r="3.6"/><circle cx="603.59" cy="594.55" r="3.6"/><circle cx="605.41" cy="595.92" r="3.6"/><circle cx="605.18" cy="597.49" r="3.6"/><circle cx="606.01" cy="592.52" r="3.6"/><circle cx="606.95" cy="597.61" r="3.6"/><circle cx="607.36" cy="599.2" r="3.6"/><circle cx="607.14" cy="596.53" r="3.6"/><circle cx="609.87" cy="597.61" r="3.6"/><circle cx="608.36" cy="594.3" r="3.6"/><circle cx="610.27" cy="594.76" r="3.6"/><circle cx="610.57" cy="602.17" r="3.6"/><circle cx="611.48" cy="600.1" r="3.6"/><circle cx="611.06" cy="601.16" r="3.6"/><circle cx="612.21" cy="602.2" r="3.6"/><circle cx="613.64" cy="600.47" r="3.6"/><circle cx="613.41" cy="601.81" r="3.6"/><circle cx="615.08" cy="601.15" r="3.6"/><circle cx="614.08" cy="600.84" r="3.6"/><circle cx="616.97" cy="602.51" r="3.6"/><circle cx="615.57" cy="598.92" r="3.6"/><circle cx="618.81" cy="603.93" r="3.6"/><circle cx="615.69" cy="605.63" r="3.6"/><circle cx="619.58" cy="605.04" r="3.6"/><circle cx="619.29" cy="603.23" r="3.6"/><circle cx="619.5" cy="600.78" r="3.6"/><circle cx="620.15" cy="603.54" r="3.6"/><circle cx="620.87" cy="604.7" r="3.6"/><circle cx="623.16" cy="609" r="3.6"/><circle cx="620.91" cy="602.81" r="3.6"/><circle cx="621.49" cy="605.22" r="3.6"/><circle cx="622.28" cy="603.9" r="3.6"/><circle cx="623.7" cy="605.29" r="3.6"/><circle cx="623.75" cy="607.19" r="3.6"/><circle cx="623.15" cy="604.7" r="3.6"/><circle cx="625.86" cy="608.01" r="3.6"/></g>
<rect x="538.6" y="490.4" width="139.9" height="147.2" fill="none" stroke="#777" stroke-width="0.9" />
<line x1="547.5" y1="637.6" x2="547.5" y2="641.2" stroke="#555" stroke-width="0.9" />
<text x="547.5" y="655.1" font-size="14.56" fill="#000" text-anchor="middle" textLength="9.1" lengthAdjust="spacingAndGlyphs">0</text>
<line x1="578.7" y1="637.6" x2="578.7" y2="641.2" stroke="#555" stroke-width="0.9" />
<text x="578.7" y="655.1" font-size="14.56" fill="#000" text-anchor="middle" textLength="9.1" lengthAdjust="spacingAndGlyphs">2</text>
<line x1="609.9" y1="637.6" x2="609.9" y2="641.2" stroke="#555" stroke-width="0.9" />
<text x="609.9" y="655.1" font-size="14.56" fill="#000" text-anchor="middle" textLength="9.1" lengthAdjust="spacingAndGlyphs">4</text>
<line x1="641.1" y1="637.6" x2="641.1" y2="641.2" stroke="#555" stroke-width="0.9" />
<text x="641.1" y="655.1" font-size="14.56" fill="#000" text-anchor="middle" textLength="9.1" lengthAdjust="spacingAndGlyphs">6</text>
<line x1="672.3" y1="637.6" x2="672.3" y2="641.2" stroke="#555" stroke-width="0.9" />
<text x="672.3" y="655.1" font-size="14.56" fill="#000" text-anchor="middle" textLength="9.1" lengthAdjust="spacingAndGlyphs">8</text>
<line x1="535" y1="619.7" x2="538.6" y2="619.7" stroke="#555" stroke-width="0.9" />
<text x="532.6" y="625" font-size="14.56" fill="#000" text-anchor="end" textLength="22.74" lengthAdjust="spacingAndGlyphs">0.4</text>
<line x1="535" y1="582.6" x2="538.6" y2="582.6" stroke="#555" stroke-width="0.9" />
<text x="532.6" y="587.9" font-size="14.56" fill="#000" text-anchor="end" textLength="22.74" lengthAdjust="spacingAndGlyphs">0.6</text>
<line x1="535" y1="545.5" x2="538.6" y2="545.5" stroke="#555" stroke-width="0.9" />
<text x="532.6" y="550.8" font-size="14.56" fill="#000" text-anchor="end" textLength="22.74" lengthAdjust="spacingAndGlyphs">0.8</text>
<line x1="535" y1="508.4" x2="538.6" y2="508.4" stroke="#555" stroke-width="0.9" />
<text x="532.6" y="513.7" font-size="14.56" fill="#000" text-anchor="end" textLength="22.74" lengthAdjust="spacingAndGlyphs">1.0</text>
<text x="555.5" y="671.8" font-size="14.56" fill="#000" textLength="96.09" lengthAdjust="spacingAndGlyphs">Nonlinearity, </text><text x="651.59" y="671.8" font-size="15.5" fill="#000" textLength="9.6" lengthAdjust="spacingAndGlyphs" font-style="italic">α</text>
<text x="502.5" y="574" font-size="14.6" fill="#000" textLength="19" lengthAdjust="spacingAndGlyphs" font-style="italic" transform="rotate(-90 502.5 574)">PC</text>
<text transform="translate(4.34,27.4) scale(0.92,1)" font-size="42" font-weight="bold" fill="#fff" stroke="#fff" stroke-width="1.6" stroke-linejoin="round">a</text>
<text transform="translate(242.5,32.5) scale(1.02,1)" font-size="42" font-weight="bold" fill="#000" stroke="#000" stroke-width="1.6" stroke-linejoin="round">b</text>
<text transform="translate(454.5,23.5) scale(1.015,1)" font-size="42" font-weight="bold" fill="#000" stroke="#000" stroke-width="1.6" stroke-linejoin="round">c</text>
<text transform="translate(3.6,163.5) scale(1.02,1)" font-size="42" font-weight="bold" fill="#000" stroke="#000" stroke-width="1.6" stroke-linejoin="round">d</text>
<text transform="translate(3.2,322.4) scale(1.06,1)" font-size="42" font-weight="bold" fill="#000" stroke="#000" stroke-width="1.6" stroke-linejoin="round">e</text>
<text transform="translate(4.45,471.1) scale(1.15,1)" font-size="42" font-weight="bold" fill="#000" stroke="#000" stroke-width="1.6" stroke-linejoin="round">f</text>
<text transform="translate(278.9,257.6) scale(1.01,1)" font-size="42" font-weight="bold" fill="#000" stroke="#000" stroke-width="1.6" stroke-linejoin="round">g</text>
<text transform="translate(262.4,501.5) scale(0.99,1)" font-size="42" font-weight="bold" fill="#000" stroke="#000" stroke-width="1.6" stroke-linejoin="round">h</text>
<text transform="translate(487.05,504.1) scale(1,1)" font-size="40.9" font-weight="normal" fill="#000" stroke="#000" stroke-width="2.62" stroke-linejoin="round">i</text>
</svg>
</body></html>
